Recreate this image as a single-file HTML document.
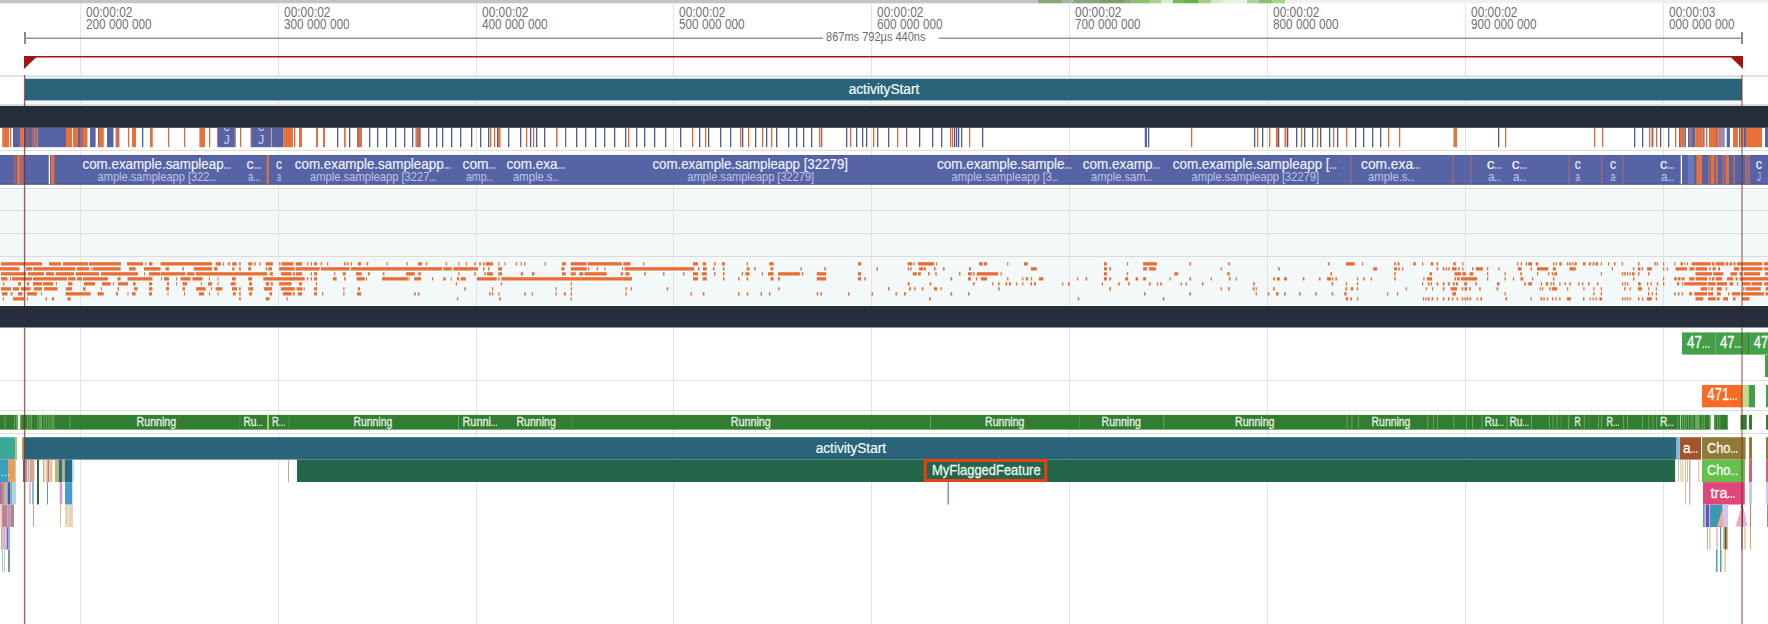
<!DOCTYPE html>
<html><head><meta charset="utf-8"><style>
html,body{margin:0;padding:0;background:#fff;width:1768px;height:624px;overflow:hidden}
svg{display:block;font-family:"Liberation Sans",sans-serif}
</style></head><body>
<svg width="1768" height="624" viewBox="0 0 1768 624">
<rect x="0.00" y="0.00" width="1768.00" height="624.00" fill="#ffffff"/>
<rect x="0.00" y="0.00" width="1038.00" height="3.30" fill="#c4c4c4"/>
<rect x="1038.00" y="0.00" width="24.00" height="3.30" fill="#8aa878"/>
<rect x="1062.00" y="0.00" width="12.00" height="3.30" fill="#a9b5a4"/>
<rect x="1074.00" y="0.00" width="26.00" height="3.30" fill="#88a47a"/>
<rect x="1100.00" y="0.00" width="24.00" height="3.30" fill="#7a9e6a"/>
<rect x="1124.00" y="0.00" width="6.00" height="3.30" fill="#90a888"/>
<rect x="1130.00" y="0.00" width="19.00" height="3.30" fill="#8cc070"/>
<rect x="1149.00" y="0.00" width="12.00" height="3.30" fill="#a8d090"/>
<rect x="1161.00" y="0.00" width="12.00" height="3.30" fill="#d8ecd0"/>
<rect x="1173.00" y="0.00" width="12.00" height="3.30" fill="#78b858"/>
<rect x="1185.00" y="0.00" width="13.00" height="3.30" fill="#6ab048"/>
<rect x="1198.00" y="0.00" width="13.00" height="3.30" fill="#a0cc88"/>
<rect x="1211.00" y="0.00" width="12.00" height="3.30" fill="#d0e8c8"/>
<rect x="1223.00" y="0.00" width="24.00" height="3.30" fill="#e8f2e4"/>
<rect x="1247.00" y="0.00" width="12.00" height="3.30" fill="#a8d098"/>
<rect x="1259.00" y="0.00" width="13.00" height="3.30" fill="#88c070"/>
<rect x="1272.00" y="0.00" width="13.00" height="3.30" fill="#a8d090"/>
<rect x="1285.00" y="0.00" width="483.00" height="3.30" fill="#efefef"/>
<rect x="24.00" y="77.00" width="1718.00" height="24.00" fill="#e9f2f5"/>
<rect x="24.00" y="100.50" width="1718.00" height="3.50" fill="#f5f9fa"/>
<rect x="0.00" y="104.00" width="1768.00" height="2.00" fill="#dcdcdc"/>
<rect x="0.00" y="75.00" width="1768.00" height="2.00" fill="#e2e2e2"/>
<rect x="0.00" y="189.00" width="1768.00" height="116.00" fill="#f3f8f9"/>
<rect x="80.00" y="3.30" width="1.00" height="620.70" fill="#e4e4e4"/>
<rect x="278.00" y="3.30" width="1.00" height="620.70" fill="#e4e4e4"/>
<rect x="476.00" y="3.30" width="1.00" height="620.70" fill="#e4e4e4"/>
<rect x="673.00" y="3.30" width="1.00" height="620.70" fill="#e4e4e4"/>
<rect x="871.00" y="3.30" width="1.00" height="620.70" fill="#e4e4e4"/>
<rect x="1069.00" y="3.30" width="1.00" height="620.70" fill="#e4e4e4"/>
<rect x="1267.00" y="3.30" width="1.00" height="620.70" fill="#e4e4e4"/>
<rect x="1465.00" y="3.30" width="1.00" height="620.70" fill="#e4e4e4"/>
<rect x="1663.00" y="3.30" width="1.00" height="620.70" fill="#e4e4e4"/>
<rect x="0.00" y="150.00" width="1768.00" height="1.00" fill="#dcdcdc"/>
<rect x="0.00" y="210.00" width="1768.00" height="1.00" fill="#dcdcdc"/>
<rect x="0.00" y="233.00" width="1768.00" height="1.00" fill="#dcdcdc"/>
<rect x="0.00" y="256.00" width="1768.00" height="1.00" fill="#dcdcdc"/>
<rect x="0.00" y="188.00" width="1768.00" height="1.00" fill="#dedede"/>
<rect x="0.00" y="380.00" width="1768.00" height="1.00" fill="#dedede"/>
<rect x="0.00" y="410.00" width="1768.00" height="1.00" fill="#dedede"/>
<rect x="0.00" y="433.00" width="1768.00" height="1.00" fill="#dedede"/>
<text x="86.00" y="16.60" font-size="15" fill="#737373" text-anchor="start" font-weight="normal" textLength="46.50" lengthAdjust="spacingAndGlyphs">00:00:02</text>
<text x="86.00" y="28.60" font-size="15" fill="#737373" text-anchor="start" font-weight="normal" textLength="65.60" lengthAdjust="spacingAndGlyphs">200 000 000</text>
<text x="284.00" y="16.60" font-size="15" fill="#737373" text-anchor="start" font-weight="normal" textLength="46.50" lengthAdjust="spacingAndGlyphs">00:00:02</text>
<text x="284.00" y="28.60" font-size="15" fill="#737373" text-anchor="start" font-weight="normal" textLength="65.60" lengthAdjust="spacingAndGlyphs">300 000 000</text>
<text x="482.00" y="16.60" font-size="15" fill="#737373" text-anchor="start" font-weight="normal" textLength="46.50" lengthAdjust="spacingAndGlyphs">00:00:02</text>
<text x="482.00" y="28.60" font-size="15" fill="#737373" text-anchor="start" font-weight="normal" textLength="65.60" lengthAdjust="spacingAndGlyphs">400 000 000</text>
<text x="679.00" y="16.60" font-size="15" fill="#737373" text-anchor="start" font-weight="normal" textLength="46.50" lengthAdjust="spacingAndGlyphs">00:00:02</text>
<text x="679.00" y="28.60" font-size="15" fill="#737373" text-anchor="start" font-weight="normal" textLength="65.60" lengthAdjust="spacingAndGlyphs">500 000 000</text>
<text x="877.00" y="16.60" font-size="15" fill="#737373" text-anchor="start" font-weight="normal" textLength="46.50" lengthAdjust="spacingAndGlyphs">00:00:02</text>
<text x="877.00" y="28.60" font-size="15" fill="#737373" text-anchor="start" font-weight="normal" textLength="65.60" lengthAdjust="spacingAndGlyphs">600 000 000</text>
<text x="1075.00" y="16.60" font-size="15" fill="#737373" text-anchor="start" font-weight="normal" textLength="46.50" lengthAdjust="spacingAndGlyphs">00:00:02</text>
<text x="1075.00" y="28.60" font-size="15" fill="#737373" text-anchor="start" font-weight="normal" textLength="65.60" lengthAdjust="spacingAndGlyphs">700 000 000</text>
<text x="1273.00" y="16.60" font-size="15" fill="#737373" text-anchor="start" font-weight="normal" textLength="46.50" lengthAdjust="spacingAndGlyphs">00:00:02</text>
<text x="1273.00" y="28.60" font-size="15" fill="#737373" text-anchor="start" font-weight="normal" textLength="65.60" lengthAdjust="spacingAndGlyphs">800 000 000</text>
<text x="1471.00" y="16.60" font-size="15" fill="#737373" text-anchor="start" font-weight="normal" textLength="46.50" lengthAdjust="spacingAndGlyphs">00:00:02</text>
<text x="1471.00" y="28.60" font-size="15" fill="#737373" text-anchor="start" font-weight="normal" textLength="65.60" lengthAdjust="spacingAndGlyphs">900 000 000</text>
<text x="1669.00" y="16.60" font-size="15" fill="#737373" text-anchor="start" font-weight="normal" textLength="46.50" lengthAdjust="spacingAndGlyphs">00:00:03</text>
<text x="1669.00" y="28.60" font-size="15" fill="#737373" text-anchor="start" font-weight="normal" textLength="65.60" lengthAdjust="spacingAndGlyphs">000 000 000</text>
<rect x="24.00" y="37.60" width="799.00" height="1.20" fill="#7c7c7c"/>
<rect x="939.00" y="37.60" width="804.00" height="1.20" fill="#7c7c7c"/>
<rect x="24.00" y="32.00" width="2.00" height="12.00" fill="#8a8a8a"/>
<rect x="1741.00" y="32.00" width="2.00" height="12.00" fill="#8a8a8a"/>
<text x="826.00" y="41.00" font-size="12" fill="#6c6c6c" text-anchor="start" font-weight="normal" textLength="99.50" lengthAdjust="spacingAndGlyphs">867ms 792µs 440ns</text>
<rect x="24.00" y="56.00" width="1719.00" height="1.50" fill="#a3160b"/>
<polygon points="24,56 37.5,56 24,69" fill="#a3160b"/>
<polygon points="1743,56 1729.5,56 1743,69" fill="#a3160b"/>
<rect x="25.00" y="78.80" width="1717.00" height="21.60" fill="#29647a"/>
<text x="848.70" y="93.90" font-size="14" fill="#f4fbfd" text-anchor="start" font-weight="normal" textLength="70.60" lengthAdjust="spacingAndGlyphs" stroke="#f4fbfd" stroke-width="0.2">activityStart</text>
<rect x="2.25" y="128.00" width="6.75" height="19.20" fill="#e8703a"/>
<rect x="10.00" y="128.00" width="1.30" height="19.20" fill="#e36a32"/>
<rect x="13.00" y="128.00" width="7.00" height="19.20" fill="#5664a6"/>
<rect x="20.00" y="128.00" width="3.75" height="19.20" fill="#e8703a"/>
<rect x="23.75" y="128.00" width="8.25" height="19.20" fill="#5664a6"/>
<rect x="26.00" y="128.00" width="1.30" height="19.20" fill="#94606a"/>
<rect x="28.00" y="128.00" width="1.30" height="19.20" fill="#94606a"/>
<rect x="32.00" y="128.00" width="5.50" height="19.20" fill="#9c6a78"/>
<rect x="34.00" y="128.00" width="1.30" height="19.20" fill="#e36a32"/>
<rect x="37.50" y="128.00" width="28.50" height="19.20" fill="#5664a6"/>
<rect x="66.00" y="128.00" width="6.00" height="19.20" fill="#e8703a"/>
<rect x="73.00" y="128.00" width="5.00" height="19.20" fill="#e8703a"/>
<rect x="78.00" y="128.00" width="2.00" height="19.20" fill="#5664a6"/>
<rect x="80.00" y="128.00" width="3.00" height="19.20" fill="#9c6a78"/>
<rect x="83.00" y="128.00" width="4.50" height="19.20" fill="#e8703a"/>
<rect x="90.00" y="128.00" width="5.60" height="19.20" fill="#5664a6"/>
<rect x="98.00" y="128.00" width="1.30" height="19.20" fill="#94606a"/>
<rect x="99.00" y="128.00" width="4.75" height="19.20" fill="#e8703a"/>
<rect x="107.00" y="128.00" width="6.50" height="19.20" fill="#5664a6"/>
<rect x="115.60" y="128.00" width="3.80" height="19.20" fill="#9c6a78"/>
<rect x="116.50" y="128.00" width="2.00" height="19.20" fill="#e8703a"/>
<rect x="128.00" y="128.00" width="1.30" height="19.20" fill="#e36a32"/>
<rect x="132.00" y="128.00" width="4.00" height="19.20" fill="#e8703a"/>
<rect x="142.00" y="128.00" width="1.30" height="19.20" fill="#4f5a98"/>
<rect x="150.00" y="128.00" width="2.75" height="19.20" fill="#e8703a"/>
<rect x="168.00" y="128.00" width="1.30" height="19.20" fill="#e36a32"/>
<rect x="184.00" y="128.00" width="1.30" height="19.20" fill="#e36a32"/>
<rect x="199.40" y="128.00" width="5.60" height="19.20" fill="#e8703a"/>
<rect x="209.00" y="128.00" width="1.30" height="19.20" fill="#e36a32"/>
<rect x="217.75" y="128.00" width="16.25" height="19.20" fill="#5664a6"/>
<rect x="234.00" y="128.00" width="1.75" height="19.20" fill="#9c6a78"/>
<rect x="240.00" y="128.00" width="1.30" height="19.20" fill="#e36a32"/>
<rect x="251.00" y="128.00" width="1.30" height="19.20" fill="#94606a"/>
<rect x="251.75" y="128.00" width="18.65" height="19.20" fill="#5664a6"/>
<rect x="270.00" y="128.00" width="1.30" height="19.20" fill="#94606a"/>
<rect x="271.60" y="128.00" width="11.90" height="19.20" fill="#5664a6"/>
<rect x="283.50" y="128.00" width="9.40" height="19.20" fill="#e8703a"/>
<rect x="294.00" y="128.00" width="1.30" height="19.20" fill="#e36a32"/>
<rect x="299.00" y="128.00" width="3.00" height="19.20" fill="#e8703a"/>
<rect x="316.00" y="128.00" width="2.00" height="19.20" fill="#e8703a"/>
<rect x="323.00" y="128.00" width="2.00" height="19.20" fill="#e8703a"/>
<rect x="337.00" y="128.00" width="1.30" height="19.20" fill="#4f5a98"/>
<rect x="344.00" y="128.00" width="1.75" height="19.20" fill="#e8703a"/>
<rect x="349.00" y="128.00" width="1.30" height="19.20" fill="#4f5a98"/>
<rect x="357.00" y="128.00" width="2.00" height="19.20" fill="#9c6a78"/>
<rect x="359.00" y="128.00" width="3.00" height="19.20" fill="#e8703a"/>
<rect x="369.00" y="128.00" width="1.30" height="19.20" fill="#4f5a98"/>
<rect x="377.00" y="128.00" width="1.30" height="19.20" fill="#4f5a98"/>
<rect x="386.00" y="128.00" width="1.30" height="19.20" fill="#4f5a98"/>
<rect x="395.00" y="128.00" width="1.30" height="19.20" fill="#4f5a98"/>
<rect x="404.00" y="128.00" width="1.30" height="19.20" fill="#4f5a98"/>
<rect x="412.00" y="128.00" width="1.30" height="19.20" fill="#4f5a98"/>
<rect x="415.40" y="128.00" width="2.60" height="19.20" fill="#e8703a"/>
<rect x="418.00" y="128.00" width="2.75" height="19.20" fill="#9c6a78"/>
<rect x="428.00" y="128.00" width="1.30" height="19.20" fill="#4f5a98"/>
<rect x="436.00" y="128.00" width="1.30" height="19.20" fill="#4f5a98"/>
<rect x="442.00" y="128.00" width="1.30" height="19.20" fill="#4f5a98"/>
<rect x="451.00" y="128.00" width="1.30" height="19.20" fill="#4f5a98"/>
<rect x="460.00" y="128.00" width="1.30" height="19.20" fill="#4f5a98"/>
<rect x="471.00" y="128.00" width="1.30" height="19.20" fill="#4f5a98"/>
<rect x="480.00" y="128.00" width="1.30" height="19.20" fill="#4f5a98"/>
<rect x="488.00" y="128.00" width="1.30" height="19.20" fill="#4f5a98"/>
<rect x="490.00" y="128.00" width="1.30" height="19.20" fill="#e36a32"/>
<rect x="494.00" y="128.00" width="1.30" height="19.20" fill="#e36a32"/>
<rect x="497.00" y="128.00" width="1.30" height="19.20" fill="#4f5a98"/>
<rect x="498.00" y="128.00" width="2.50" height="19.20" fill="#e8703a"/>
<rect x="508.00" y="128.00" width="1.30" height="19.20" fill="#4f5a98"/>
<rect x="520.00" y="128.00" width="1.30" height="19.20" fill="#4f5a98"/>
<rect x="526.00" y="128.00" width="1.30" height="19.20" fill="#e36a32"/>
<rect x="530.00" y="128.00" width="1.30" height="19.20" fill="#4f5a98"/>
<rect x="533.00" y="128.00" width="1.30" height="19.20" fill="#e36a32"/>
<rect x="536.00" y="128.00" width="1.30" height="19.20" fill="#4f5a98"/>
<rect x="544.00" y="128.00" width="1.30" height="19.20" fill="#4f5a98"/>
<rect x="556.00" y="128.00" width="1.60" height="19.20" fill="#e8703a"/>
<rect x="565.00" y="128.00" width="1.30" height="19.20" fill="#94606a"/>
<rect x="576.00" y="128.00" width="1.30" height="19.20" fill="#4f5a98"/>
<rect x="585.00" y="128.00" width="1.30" height="19.20" fill="#4f5a98"/>
<rect x="595.00" y="128.00" width="1.30" height="19.20" fill="#4f5a98"/>
<rect x="604.00" y="128.00" width="1.30" height="19.20" fill="#4f5a98"/>
<rect x="614.00" y="128.00" width="1.30" height="19.20" fill="#4f5a98"/>
<rect x="625.00" y="128.00" width="1.30" height="19.20" fill="#4f5a98"/>
<rect x="628.00" y="128.00" width="1.30" height="19.20" fill="#e36a32"/>
<rect x="636.00" y="128.00" width="1.30" height="19.20" fill="#4f5a98"/>
<rect x="644.00" y="128.00" width="1.30" height="19.20" fill="#4f5a98"/>
<rect x="654.00" y="128.00" width="1.30" height="19.20" fill="#4f5a98"/>
<rect x="665.00" y="128.00" width="1.30" height="19.20" fill="#4f5a98"/>
<rect x="680.00" y="128.00" width="1.30" height="19.20" fill="#4f5a98"/>
<rect x="692.00" y="128.00" width="1.30" height="19.20" fill="#e36a32"/>
<rect x="699.00" y="128.00" width="1.30" height="19.20" fill="#4f5a98"/>
<rect x="705.00" y="128.00" width="1.30" height="19.20" fill="#e36a32"/>
<rect x="708.00" y="128.00" width="1.30" height="19.20" fill="#4f5a98"/>
<rect x="720.00" y="128.00" width="1.30" height="19.20" fill="#4f5a98"/>
<rect x="730.00" y="128.00" width="1.30" height="19.20" fill="#4f5a98"/>
<rect x="740.00" y="128.00" width="1.30" height="19.20" fill="#e36a32"/>
<rect x="742.00" y="128.00" width="1.30" height="19.20" fill="#4f5a98"/>
<rect x="748.00" y="128.00" width="1.30" height="19.20" fill="#e36a32"/>
<rect x="755.00" y="128.00" width="1.30" height="19.20" fill="#4f5a98"/>
<rect x="762.00" y="128.00" width="1.30" height="19.20" fill="#e36a32"/>
<rect x="766.00" y="128.00" width="1.30" height="19.20" fill="#4f5a98"/>
<rect x="771.00" y="128.00" width="1.30" height="19.20" fill="#e36a32"/>
<rect x="776.00" y="128.00" width="1.30" height="19.20" fill="#4f5a98"/>
<rect x="788.00" y="128.00" width="1.30" height="19.20" fill="#4f5a98"/>
<rect x="796.00" y="128.00" width="1.30" height="19.20" fill="#4f5a98"/>
<rect x="803.00" y="128.00" width="1.30" height="19.20" fill="#4f5a98"/>
<rect x="811.00" y="128.00" width="1.30" height="19.20" fill="#4f5a98"/>
<rect x="819.00" y="128.00" width="1.30" height="19.20" fill="#e36a32"/>
<rect x="821.00" y="128.00" width="1.30" height="19.20" fill="#94606a"/>
<rect x="846.00" y="128.00" width="1.30" height="19.20" fill="#4f5a98"/>
<rect x="850.00" y="128.00" width="1.30" height="19.20" fill="#e36a32"/>
<rect x="856.00" y="128.00" width="1.30" height="19.20" fill="#4f5a98"/>
<rect x="862.00" y="128.00" width="1.30" height="19.20" fill="#4f5a98"/>
<rect x="866.00" y="128.00" width="1.30" height="19.20" fill="#4f5a98"/>
<rect x="873.00" y="128.00" width="1.30" height="19.20" fill="#e36a32"/>
<rect x="877.00" y="128.00" width="1.30" height="19.20" fill="#4f5a98"/>
<rect x="888.00" y="128.00" width="1.30" height="19.20" fill="#4f5a98"/>
<rect x="897.00" y="128.00" width="1.30" height="19.20" fill="#e36a32"/>
<rect x="906.00" y="128.00" width="1.30" height="19.20" fill="#94606a"/>
<rect x="919.00" y="128.00" width="1.30" height="19.20" fill="#4f5a98"/>
<rect x="932.00" y="128.00" width="1.30" height="19.20" fill="#4f5a98"/>
<rect x="941.00" y="128.00" width="1.30" height="19.20" fill="#4f5a98"/>
<rect x="950.00" y="128.00" width="1.30" height="19.20" fill="#e36a32"/>
<rect x="952.00" y="128.00" width="1.30" height="19.20" fill="#e36a32"/>
<rect x="954.00" y="128.00" width="1.30" height="19.20" fill="#4f5a98"/>
<rect x="956.00" y="128.00" width="1.30" height="19.20" fill="#4f5a98"/>
<rect x="958.00" y="128.00" width="1.30" height="19.20" fill="#4f5a98"/>
<rect x="961.00" y="128.00" width="1.30" height="19.20" fill="#4f5a98"/>
<rect x="969.00" y="128.00" width="1.30" height="19.20" fill="#e36a32"/>
<rect x="982.00" y="128.00" width="1.30" height="19.20" fill="#4f5a98"/>
<rect x="1144.75" y="128.00" width="2.25" height="19.20" fill="#5664a6"/>
<rect x="1148.00" y="128.00" width="1.30" height="19.20" fill="#4f5a98"/>
<rect x="1191.00" y="128.00" width="1.30" height="19.20" fill="#e36a32"/>
<rect x="1254.00" y="128.00" width="1.30" height="19.20" fill="#4f5a98"/>
<rect x="1257.00" y="128.00" width="1.30" height="19.20" fill="#e36a32"/>
<rect x="1262.00" y="128.00" width="1.30" height="19.20" fill="#4f5a98"/>
<rect x="1269.00" y="128.00" width="1.30" height="19.20" fill="#e36a32"/>
<rect x="1276.00" y="128.00" width="2.00" height="19.20" fill="#e8703a"/>
<rect x="1278.00" y="128.00" width="1.30" height="19.20" fill="#4f5a98"/>
<rect x="1284.50" y="128.00" width="2.00" height="19.20" fill="#e8703a"/>
<rect x="1287.00" y="128.00" width="1.30" height="19.20" fill="#4f5a98"/>
<rect x="1296.00" y="128.00" width="1.30" height="19.20" fill="#4f5a98"/>
<rect x="1301.00" y="128.00" width="1.30" height="19.20" fill="#e36a32"/>
<rect x="1304.00" y="128.00" width="1.30" height="19.20" fill="#4f5a98"/>
<rect x="1312.00" y="128.00" width="1.30" height="19.20" fill="#4f5a98"/>
<rect x="1317.00" y="128.00" width="1.30" height="19.20" fill="#e36a32"/>
<rect x="1320.00" y="128.00" width="1.30" height="19.20" fill="#4f5a98"/>
<rect x="1329.00" y="128.00" width="1.30" height="19.20" fill="#4f5a98"/>
<rect x="1333.00" y="128.00" width="1.30" height="19.20" fill="#e36a32"/>
<rect x="1337.00" y="128.00" width="1.30" height="19.20" fill="#4f5a98"/>
<rect x="1346.00" y="128.00" width="1.30" height="19.20" fill="#e36a32"/>
<rect x="1355.00" y="128.00" width="1.30" height="19.20" fill="#4f5a98"/>
<rect x="1363.00" y="128.00" width="1.30" height="19.20" fill="#4f5a98"/>
<rect x="1372.00" y="128.00" width="1.30" height="19.20" fill="#4f5a98"/>
<rect x="1380.00" y="128.00" width="1.30" height="19.20" fill="#4f5a98"/>
<rect x="1388.00" y="128.00" width="1.30" height="19.20" fill="#e36a32"/>
<rect x="1399.00" y="128.00" width="1.30" height="19.20" fill="#e36a32"/>
<rect x="1453.50" y="128.00" width="3.50" height="19.20" fill="#e8703a"/>
<rect x="1498.00" y="128.00" width="1.30" height="19.20" fill="#4f5a98"/>
<rect x="1505.00" y="128.00" width="1.30" height="19.20" fill="#e36a32"/>
<rect x="1594.00" y="128.00" width="1.30" height="19.20" fill="#e36a32"/>
<rect x="1602.00" y="128.00" width="1.30" height="19.20" fill="#e36a32"/>
<rect x="1634.00" y="128.00" width="1.30" height="19.20" fill="#4f5a98"/>
<rect x="1642.00" y="128.00" width="1.30" height="19.20" fill="#4f5a98"/>
<rect x="1649.00" y="128.00" width="1.30" height="19.20" fill="#e36a32"/>
<rect x="1651.50" y="128.00" width="2.00" height="19.20" fill="#9c6a78"/>
<rect x="1656.00" y="128.00" width="1.30" height="19.20" fill="#e36a32"/>
<rect x="1660.00" y="128.00" width="1.30" height="19.20" fill="#4f5a98"/>
<rect x="1668.00" y="128.00" width="1.30" height="19.20" fill="#4f5a98"/>
<rect x="1675.00" y="128.00" width="1.30" height="19.20" fill="#e36a32"/>
<rect x="1679.00" y="128.00" width="1.30" height="19.20" fill="#94606a"/>
<rect x="1680.00" y="128.00" width="4.30" height="19.20" fill="#e8703a"/>
<rect x="1684.30" y="128.00" width="1.60" height="19.20" fill="#5664a6"/>
<rect x="1688.00" y="128.00" width="1.80" height="19.20" fill="#5664a6"/>
<rect x="1689.80" y="128.00" width="2.30" height="19.20" fill="#9c6a78"/>
<rect x="1692.10" y="128.00" width="3.40" height="19.20" fill="#5664a6"/>
<rect x="1695.50" y="128.00" width="7.00" height="19.20" fill="#e8703a"/>
<rect x="1702.50" y="128.00" width="2.10" height="19.20" fill="#9c6a78"/>
<rect x="1706.00" y="128.00" width="1.30" height="19.20" fill="#e36a32"/>
<rect x="1709.00" y="128.00" width="7.10" height="19.20" fill="#e8703a"/>
<rect x="1716.00" y="128.00" width="1.30" height="19.20" fill="#94606a"/>
<rect x="1717.10" y="128.00" width="5.20" height="19.20" fill="#c08080"/>
<rect x="1722.30" y="128.00" width="2.30" height="19.20" fill="#7080c0"/>
<rect x="1726.70" y="128.00" width="3.20" height="19.20" fill="#5664a6"/>
<rect x="1733.00" y="128.00" width="4.90" height="19.20" fill="#e8703a"/>
<rect x="1739.00" y="128.00" width="1.30" height="19.20" fill="#94606a"/>
<rect x="1740.30" y="128.00" width="3.30" height="19.20" fill="#e8703a"/>
<rect x="1743.60" y="128.00" width="2.40" height="19.20" fill="#5664a6"/>
<rect x="1746.00" y="128.00" width="16.00" height="19.20" fill="#e8703a"/>
<rect x="1765.00" y="128.00" width="3.00" height="19.20" fill="#5664a6"/>
<rect x="217.20" y="128.00" width="1.00" height="19.20" fill="#9c6a78"/>
<rect x="250.60" y="128.00" width="1.00" height="19.20" fill="#9c6a78"/>
<text x="226.60" y="143.60" font-size="12.5" fill="#c8cce8" text-anchor="middle" font-weight="normal">J</text>
<text x="226.60" y="131.20" font-size="12" fill="#d8dcf0" text-anchor="middle" font-weight="normal">c</text>
<text x="261.00" y="143.60" font-size="12.5" fill="#c8cce8" text-anchor="middle" font-weight="normal">J</text>
<text x="261.00" y="131.20" font-size="12" fill="#d8dcf0" text-anchor="middle" font-weight="normal">c</text>
<rect x="0.00" y="106.00" width="1768.00" height="21.80" fill="#262e3b"/>
<rect x="0.00" y="306.00" width="1768.00" height="21.50" fill="#262e3b"/>
<rect x="0.00" y="155.00" width="1768.00" height="29.60" fill="#5664a6"/>
<rect x="0.00" y="183.20" width="1768.00" height="1.40" fill="#505b94"/>
<rect x="0.00" y="155.00" width="1768.00" height="0.80" fill="#505b94"/>
<rect x="13.75" y="155.00" width="1.85" height="29.30" fill="#9c6a78"/>
<rect x="17.00" y="155.00" width="3.60" height="29.30" fill="#e8703a"/>
<rect x="20.60" y="155.00" width="3.15" height="29.30" fill="#9c6a78"/>
<rect x="48.75" y="155.00" width="1.25" height="29.30" fill="#ffffff"/>
<rect x="51.00" y="155.00" width="3.40" height="29.30" fill="#e8703a"/>
<rect x="266.60" y="155.00" width="2.40" height="29.30" fill="#cf6f4c"/>
<rect x="1350.50" y="155.00" width="1.20" height="29.30" fill="#9c6a78"/>
<rect x="1452.50" y="155.00" width="1.20" height="29.30" fill="#9c6a78"/>
<rect x="1470.50" y="155.00" width="1.20" height="29.30" fill="#9c6a78"/>
<rect x="1568.50" y="155.00" width="1.20" height="29.30" fill="#9c6a78"/>
<rect x="1601.00" y="155.00" width="1.20" height="29.30" fill="#9c6a78"/>
<rect x="1622.50" y="155.00" width="1.20" height="29.30" fill="#9c6a78"/>
<rect x="1680.75" y="155.00" width="1.25" height="29.30" fill="#ffffff"/>
<rect x="1688.00" y="155.00" width="6.00" height="29.30" fill="#6d78b6"/>
<rect x="1696.40" y="155.00" width="5.60" height="29.30" fill="#e8703a"/>
<rect x="1708.60" y="155.00" width="1.00" height="29.30" fill="#e8703a"/>
<rect x="1710.75" y="155.00" width="3.75" height="29.30" fill="#e8703a"/>
<rect x="1716.00" y="155.00" width="1.60" height="29.30" fill="#e8703a"/>
<rect x="1722.00" y="155.00" width="2.50" height="29.30" fill="#9c6a78"/>
<rect x="1725.50" y="155.00" width="3.50" height="29.30" fill="#e8703a"/>
<rect x="1733.50" y="155.00" width="1.10" height="29.30" fill="#e8703a"/>
<rect x="1745.00" y="155.00" width="5.00" height="29.30" fill="#9c6a78"/>
<text x="82.50" y="168.80" font-size="14.8" fill="#f2f3fa" text-anchor="start" font-weight="normal" textLength="141.10" lengthAdjust="spacingAndGlyphs" stroke="#f2f3fa" stroke-width="0.15">com.example.sampleap</text>
<circle cx="224.83" cy="167.99" r="0.81" fill="#f2f3fa"/>
<circle cx="227.30" cy="167.99" r="0.81" fill="#f2f3fa"/>
<circle cx="229.77" cy="167.99" r="0.81" fill="#f2f3fa"/>
<text x="97.50" y="181.00" font-size="13" fill="#bfc4e4" text-anchor="start" font-weight="normal" textLength="112.00" lengthAdjust="spacingAndGlyphs">ample.sampleapp [322</text>
<circle cx="210.58" cy="180.28" r="0.71" fill="#bfc4e4"/>
<circle cx="212.75" cy="180.28" r="0.71" fill="#bfc4e4"/>
<circle cx="214.92" cy="180.28" r="0.71" fill="#bfc4e4"/>
<text x="246.60" y="168.80" font-size="14.8" fill="#f2f3fa" text-anchor="start" font-weight="normal" textLength="7.00" lengthAdjust="spacingAndGlyphs" stroke="#f2f3fa" stroke-width="0.15">c</text>
<circle cx="254.83" cy="167.99" r="0.81" fill="#f2f3fa"/>
<circle cx="257.30" cy="167.99" r="0.81" fill="#f2f3fa"/>
<circle cx="259.77" cy="167.99" r="0.81" fill="#f2f3fa"/>
<text x="248.00" y="181.00" font-size="13" fill="#bfc4e4" text-anchor="start" font-weight="normal" textLength="5.50" lengthAdjust="spacingAndGlyphs">a</text>
<circle cx="254.58" cy="180.28" r="0.71" fill="#bfc4e4"/>
<circle cx="256.75" cy="180.28" r="0.71" fill="#bfc4e4"/>
<circle cx="258.92" cy="180.28" r="0.71" fill="#bfc4e4"/>
<text x="276.00" y="168.80" font-size="14.8" fill="#f2f3fa" text-anchor="start" font-weight="normal" textLength="6.00" lengthAdjust="spacingAndGlyphs" stroke="#f2f3fa" stroke-width="0.15">c</text>
<text x="277.00" y="181.00" font-size="13" fill="#bfc4e4" text-anchor="start" font-weight="normal" textLength="4.00" lengthAdjust="spacingAndGlyphs">a</text>
<text x="294.75" y="168.80" font-size="14.8" fill="#f2f3fa" text-anchor="start" font-weight="normal" textLength="148.85" lengthAdjust="spacingAndGlyphs" stroke="#f2f3fa" stroke-width="0.15">com.example.sampleapp</text>
<circle cx="444.83" cy="167.99" r="0.81" fill="#f2f3fa"/>
<circle cx="447.30" cy="167.99" r="0.81" fill="#f2f3fa"/>
<circle cx="449.77" cy="167.99" r="0.81" fill="#f2f3fa"/>
<text x="310.00" y="181.00" font-size="13" fill="#bfc4e4" text-anchor="start" font-weight="normal" textLength="119.50" lengthAdjust="spacingAndGlyphs">ample.sampleapp [3227</text>
<circle cx="430.58" cy="180.28" r="0.71" fill="#bfc4e4"/>
<circle cx="432.75" cy="180.28" r="0.71" fill="#bfc4e4"/>
<circle cx="434.92" cy="180.28" r="0.71" fill="#bfc4e4"/>
<text x="462.50" y="168.80" font-size="14.8" fill="#f2f3fa" text-anchor="start" font-weight="normal" textLength="26.10" lengthAdjust="spacingAndGlyphs" stroke="#f2f3fa" stroke-width="0.15">com</text>
<circle cx="489.83" cy="167.99" r="0.81" fill="#f2f3fa"/>
<circle cx="492.30" cy="167.99" r="0.81" fill="#f2f3fa"/>
<circle cx="494.77" cy="167.99" r="0.81" fill="#f2f3fa"/>
<text x="466.00" y="181.00" font-size="13" fill="#bfc4e4" text-anchor="start" font-weight="normal" textLength="20.50" lengthAdjust="spacingAndGlyphs">amp</text>
<circle cx="487.58" cy="180.28" r="0.71" fill="#bfc4e4"/>
<circle cx="489.75" cy="180.28" r="0.71" fill="#bfc4e4"/>
<circle cx="491.92" cy="180.28" r="0.71" fill="#bfc4e4"/>
<text x="506.50" y="168.80" font-size="14.8" fill="#f2f3fa" text-anchor="start" font-weight="normal" textLength="51.10" lengthAdjust="spacingAndGlyphs" stroke="#f2f3fa" stroke-width="0.15">com.exa</text>
<circle cx="558.83" cy="167.99" r="0.81" fill="#f2f3fa"/>
<circle cx="561.30" cy="167.99" r="0.81" fill="#f2f3fa"/>
<circle cx="563.77" cy="167.99" r="0.81" fill="#f2f3fa"/>
<text x="513.00" y="181.00" font-size="13" fill="#bfc4e4" text-anchor="start" font-weight="normal" textLength="39.50" lengthAdjust="spacingAndGlyphs">ample.s</text>
<circle cx="553.58" cy="180.28" r="0.71" fill="#bfc4e4"/>
<circle cx="555.75" cy="180.28" r="0.71" fill="#bfc4e4"/>
<circle cx="557.92" cy="180.28" r="0.71" fill="#bfc4e4"/>
<text x="652.40" y="168.80" font-size="14.8" fill="#f2f3fa" text-anchor="start" font-weight="normal" textLength="195.60" lengthAdjust="spacingAndGlyphs" stroke="#f2f3fa" stroke-width="0.15">com.example.sampleapp [32279]</text>
<text x="687.30" y="181.00" font-size="13" fill="#bfc4e4" text-anchor="start" font-weight="normal" textLength="126.80" lengthAdjust="spacingAndGlyphs">ample.sampleapp [32279]</text>
<text x="937.00" y="168.80" font-size="14.8" fill="#f2f3fa" text-anchor="start" font-weight="normal" textLength="127.60" lengthAdjust="spacingAndGlyphs" stroke="#f2f3fa" stroke-width="0.15">com.example.sample</text>
<circle cx="1065.83" cy="167.99" r="0.81" fill="#f2f3fa"/>
<circle cx="1068.30" cy="167.99" r="0.81" fill="#f2f3fa"/>
<circle cx="1070.77" cy="167.99" r="0.81" fill="#f2f3fa"/>
<text x="951.50" y="181.00" font-size="13" fill="#bfc4e4" text-anchor="start" font-weight="normal" textLength="100.50" lengthAdjust="spacingAndGlyphs">ample.sampleapp [3</text>
<circle cx="1053.08" cy="180.28" r="0.71" fill="#bfc4e4"/>
<circle cx="1055.25" cy="180.28" r="0.71" fill="#bfc4e4"/>
<circle cx="1057.42" cy="180.28" r="0.71" fill="#bfc4e4"/>
<text x="1082.75" y="168.80" font-size="14.8" fill="#f2f3fa" text-anchor="start" font-weight="normal" textLength="69.85" lengthAdjust="spacingAndGlyphs" stroke="#f2f3fa" stroke-width="0.15">com.examp</text>
<circle cx="1153.83" cy="167.99" r="0.81" fill="#f2f3fa"/>
<circle cx="1156.30" cy="167.99" r="0.81" fill="#f2f3fa"/>
<circle cx="1158.77" cy="167.99" r="0.81" fill="#f2f3fa"/>
<text x="1091.00" y="181.00" font-size="13" fill="#bfc4e4" text-anchor="start" font-weight="normal" textLength="54.50" lengthAdjust="spacingAndGlyphs">ample.sam</text>
<circle cx="1146.58" cy="180.28" r="0.71" fill="#bfc4e4"/>
<circle cx="1148.75" cy="180.28" r="0.71" fill="#bfc4e4"/>
<circle cx="1150.92" cy="180.28" r="0.71" fill="#bfc4e4"/>
<text x="1172.75" y="168.80" font-size="14.8" fill="#f2f3fa" text-anchor="start" font-weight="normal" textLength="156.85" lengthAdjust="spacingAndGlyphs" stroke="#f2f3fa" stroke-width="0.15">com.example.sampleapp [</text>
<circle cx="1330.83" cy="167.99" r="0.81" fill="#f2f3fa"/>
<circle cx="1333.30" cy="167.99" r="0.81" fill="#f2f3fa"/>
<circle cx="1335.77" cy="167.99" r="0.81" fill="#f2f3fa"/>
<text x="1191.50" y="181.00" font-size="13" fill="#bfc4e4" text-anchor="start" font-weight="normal" textLength="127.50" lengthAdjust="spacingAndGlyphs">ample.sampleapp [32279]</text>
<text x="1361.00" y="168.80" font-size="14.8" fill="#f2f3fa" text-anchor="start" font-weight="normal" textLength="52.10" lengthAdjust="spacingAndGlyphs" stroke="#f2f3fa" stroke-width="0.15">com.exa</text>
<circle cx="1414.33" cy="167.99" r="0.81" fill="#f2f3fa"/>
<circle cx="1416.80" cy="167.99" r="0.81" fill="#f2f3fa"/>
<circle cx="1419.27" cy="167.99" r="0.81" fill="#f2f3fa"/>
<text x="1368.00" y="181.00" font-size="13" fill="#bfc4e4" text-anchor="start" font-weight="normal" textLength="39.50" lengthAdjust="spacingAndGlyphs">ample.s</text>
<circle cx="1408.58" cy="180.28" r="0.71" fill="#bfc4e4"/>
<circle cx="1410.75" cy="180.28" r="0.71" fill="#bfc4e4"/>
<circle cx="1412.92" cy="180.28" r="0.71" fill="#bfc4e4"/>
<text x="1486.75" y="168.80" font-size="14.8" fill="#f2f3fa" text-anchor="start" font-weight="normal" textLength="7.85" lengthAdjust="spacingAndGlyphs" stroke="#f2f3fa" stroke-width="0.15">c</text>
<circle cx="1495.83" cy="167.99" r="0.81" fill="#f2f3fa"/>
<circle cx="1498.30" cy="167.99" r="0.81" fill="#f2f3fa"/>
<circle cx="1500.77" cy="167.99" r="0.81" fill="#f2f3fa"/>
<text x="1488.00" y="181.00" font-size="13" fill="#bfc4e4" text-anchor="start" font-weight="normal" textLength="6.50" lengthAdjust="spacingAndGlyphs">a</text>
<circle cx="1495.58" cy="180.28" r="0.71" fill="#bfc4e4"/>
<circle cx="1497.75" cy="180.28" r="0.71" fill="#bfc4e4"/>
<circle cx="1499.92" cy="180.28" r="0.71" fill="#bfc4e4"/>
<text x="1511.75" y="168.80" font-size="14.8" fill="#f2f3fa" text-anchor="start" font-weight="normal" textLength="7.85" lengthAdjust="spacingAndGlyphs" stroke="#f2f3fa" stroke-width="0.15">c</text>
<circle cx="1520.83" cy="167.99" r="0.81" fill="#f2f3fa"/>
<circle cx="1523.30" cy="167.99" r="0.81" fill="#f2f3fa"/>
<circle cx="1525.77" cy="167.99" r="0.81" fill="#f2f3fa"/>
<text x="1513.00" y="181.00" font-size="13" fill="#bfc4e4" text-anchor="start" font-weight="normal" textLength="6.50" lengthAdjust="spacingAndGlyphs">a</text>
<circle cx="1520.58" cy="180.28" r="0.71" fill="#bfc4e4"/>
<circle cx="1522.75" cy="180.28" r="0.71" fill="#bfc4e4"/>
<circle cx="1524.92" cy="180.28" r="0.71" fill="#bfc4e4"/>
<text x="1574.75" y="168.80" font-size="14.8" fill="#f2f3fa" text-anchor="start" font-weight="normal" textLength="6.00" lengthAdjust="spacingAndGlyphs" stroke="#f2f3fa" stroke-width="0.15">c</text>
<text x="1575.50" y="181.00" font-size="13" fill="#bfc4e4" text-anchor="start" font-weight="normal" textLength="4.50" lengthAdjust="spacingAndGlyphs">a</text>
<text x="1610.00" y="168.80" font-size="14.8" fill="#f2f3fa" text-anchor="start" font-weight="normal" textLength="6.00" lengthAdjust="spacingAndGlyphs" stroke="#f2f3fa" stroke-width="0.15">c</text>
<text x="1610.50" y="181.00" font-size="13" fill="#bfc4e4" text-anchor="start" font-weight="normal" textLength="5.00" lengthAdjust="spacingAndGlyphs">a</text>
<text x="1660.00" y="168.80" font-size="14.8" fill="#f2f3fa" text-anchor="start" font-weight="normal" textLength="7.35" lengthAdjust="spacingAndGlyphs" stroke="#f2f3fa" stroke-width="0.15">c</text>
<circle cx="1668.58" cy="167.99" r="0.81" fill="#f2f3fa"/>
<circle cx="1671.05" cy="167.99" r="0.81" fill="#f2f3fa"/>
<circle cx="1673.52" cy="167.99" r="0.81" fill="#f2f3fa"/>
<text x="1661.00" y="181.00" font-size="13" fill="#bfc4e4" text-anchor="start" font-weight="normal" textLength="6.50" lengthAdjust="spacingAndGlyphs">a</text>
<circle cx="1668.58" cy="180.28" r="0.71" fill="#bfc4e4"/>
<circle cx="1670.75" cy="180.28" r="0.71" fill="#bfc4e4"/>
<circle cx="1672.92" cy="180.28" r="0.71" fill="#bfc4e4"/>
<text x="1755.75" y="168.80" font-size="14.8" fill="#f2f3fa" text-anchor="start" font-weight="normal" textLength="6.25" lengthAdjust="spacingAndGlyphs" stroke="#f2f3fa" stroke-width="0.15">c</text>
<text x="1757.00" y="181.00" font-size="13" fill="#bfc4e4" text-anchor="start" font-weight="normal" textLength="4.00" lengthAdjust="spacingAndGlyphs">J</text>
<rect x="1.00" y="262.20" width="41.00" height="3.30" fill="#e86e36"/>
<rect x="49.00" y="262.20" width="12.00" height="3.30" fill="#e86e36"/>
<rect x="63.00" y="262.20" width="25.00" height="3.30" fill="#e86e36"/>
<rect x="89.00" y="262.20" width="32.00" height="3.30" fill="#e86e36"/>
<rect x="127.00" y="262.20" width="16.00" height="3.30" fill="#e86e36"/>
<rect x="145.00" y="262.20" width="1.00" height="3.30" fill="#e86e36"/>
<rect x="149.00" y="262.20" width="3.50" height="3.30" fill="#e86e36"/>
<rect x="160.60" y="262.20" width="51.40" height="3.30" fill="#e86e36"/>
<rect x="215.60" y="262.20" width="5.40" height="3.30" fill="#e86e36"/>
<rect x="222.88" y="262.20" width="1.25" height="3.30" fill="#e86e36"/>
<rect x="227.88" y="262.20" width="1.88" height="3.30" fill="#e86e36"/>
<rect x="232.25" y="262.20" width="4.38" height="3.30" fill="#e86e36"/>
<rect x="239.12" y="262.20" width="1.62" height="3.30" fill="#e86e36"/>
<rect x="248.25" y="262.20" width="4.00" height="3.30" fill="#e86e36"/>
<rect x="254.12" y="262.20" width="1.62" height="3.30" fill="#e86e36"/>
<rect x="259.50" y="262.20" width="1.25" height="3.30" fill="#e86e36"/>
<rect x="265.75" y="262.20" width="7.12" height="3.30" fill="#e86e36"/>
<rect x="279.12" y="262.20" width="1.25" height="3.30" fill="#e86e36"/>
<rect x="281.62" y="262.20" width="11.88" height="3.30" fill="#e86e36"/>
<rect x="295.75" y="262.20" width="6.25" height="3.30" fill="#e86e36"/>
<rect x="307.00" y="262.20" width="1.25" height="3.30" fill="#e86e36"/>
<rect x="310.75" y="262.20" width="1.25" height="3.30" fill="#e86e36"/>
<rect x="314.12" y="262.20" width="2.88" height="3.30" fill="#e86e36"/>
<rect x="320.75" y="262.20" width="1.25" height="3.30" fill="#e86e36"/>
<rect x="327.00" y="262.20" width="1.25" height="3.30" fill="#e86e36"/>
<rect x="344.12" y="262.20" width="1.62" height="3.30" fill="#e86e36"/>
<rect x="347.00" y="262.20" width="1.50" height="3.30" fill="#e86e36"/>
<rect x="350.75" y="262.20" width="1.25" height="3.30" fill="#e86e36"/>
<rect x="357.88" y="262.20" width="3.12" height="3.30" fill="#e86e36"/>
<rect x="366.62" y="262.20" width="1.62" height="3.30" fill="#e86e36"/>
<rect x="386.62" y="262.20" width="1.25" height="3.30" fill="#e86e36"/>
<rect x="406.62" y="262.20" width="1.25" height="3.30" fill="#e86e36"/>
<rect x="418.25" y="262.20" width="3.75" height="3.30" fill="#e86e36"/>
<rect x="425.75" y="262.20" width="1.25" height="3.30" fill="#e86e36"/>
<rect x="445.75" y="262.20" width="1.25" height="3.30" fill="#e86e36"/>
<rect x="458.25" y="262.20" width="1.25" height="3.30" fill="#e86e36"/>
<rect x="465.75" y="262.20" width="1.25" height="3.30" fill="#e86e36"/>
<rect x="474.25" y="262.20" width="1.50" height="3.30" fill="#e86e36"/>
<rect x="479.25" y="262.20" width="1.50" height="3.30" fill="#e86e36"/>
<rect x="483.00" y="262.20" width="1.50" height="3.30" fill="#e86e36"/>
<rect x="485.75" y="262.20" width="7.25" height="3.30" fill="#e86e36"/>
<rect x="498.25" y="262.20" width="1.25" height="3.30" fill="#e86e36"/>
<rect x="504.50" y="262.20" width="1.25" height="3.30" fill="#e86e36"/>
<rect x="515.75" y="262.20" width="1.25" height="3.30" fill="#e86e36"/>
<rect x="520.75" y="262.20" width="1.25" height="3.30" fill="#e86e36"/>
<rect x="524.25" y="262.20" width="1.25" height="3.30" fill="#e86e36"/>
<rect x="544.50" y="262.20" width="1.25" height="3.30" fill="#e86e36"/>
<rect x="562.00" y="262.20" width="3.75" height="3.30" fill="#e86e36"/>
<rect x="570.75" y="262.20" width="16.00" height="3.30" fill="#e86e36"/>
<rect x="588.00" y="262.20" width="33.75" height="3.30" fill="#e86e36"/>
<rect x="623.25" y="262.20" width="7.25" height="3.30" fill="#e86e36"/>
<rect x="643.00" y="262.20" width="1.25" height="3.30" fill="#e86e36"/>
<rect x="693.00" y="262.20" width="5.00" height="3.30" fill="#e86e36"/>
<rect x="702.75" y="262.20" width="3.38" height="3.30" fill="#e86e36"/>
<rect x="714.00" y="262.20" width="1.50" height="3.30" fill="#e86e36"/>
<rect x="722.00" y="262.20" width="2.88" height="3.30" fill="#e86e36"/>
<rect x="746.75" y="262.20" width="1.25" height="3.30" fill="#e86e36"/>
<rect x="769.25" y="262.20" width="4.38" height="3.30" fill="#e86e36"/>
<rect x="858.00" y="262.20" width="3.12" height="3.30" fill="#e86e36"/>
<rect x="907.75" y="262.20" width="4.38" height="3.30" fill="#e86e36"/>
<rect x="913.38" y="262.20" width="1.25" height="3.30" fill="#e86e36"/>
<rect x="918.00" y="262.20" width="16.00" height="3.30" fill="#e86e36"/>
<rect x="935.88" y="262.20" width="1.25" height="3.30" fill="#e86e36"/>
<rect x="979.00" y="262.20" width="3.75" height="3.30" fill="#e86e36"/>
<rect x="984.00" y="262.20" width="3.12" height="3.30" fill="#e86e36"/>
<rect x="1007.12" y="262.20" width="1.25" height="3.30" fill="#e86e36"/>
<rect x="1024.00" y="262.20" width="3.75" height="3.30" fill="#e86e36"/>
<rect x="1104.00" y="262.20" width="1.00" height="3.30" fill="#e86e36"/>
<rect x="1105.00" y="262.20" width="1.88" height="3.30" fill="#e86e36"/>
<rect x="1126.88" y="262.20" width="1.25" height="3.30" fill="#e86e36"/>
<rect x="1143.12" y="262.20" width="13.75" height="3.30" fill="#e86e36"/>
<rect x="1189.38" y="262.20" width="1.62" height="3.30" fill="#e86e36"/>
<rect x="1228.12" y="262.20" width="1.62" height="3.30" fill="#e86e36"/>
<rect x="1327.88" y="262.20" width="1.62" height="3.30" fill="#e86e36"/>
<rect x="1346.00" y="262.20" width="8.75" height="3.30" fill="#e86e36"/>
<rect x="1362.00" y="262.20" width="1.25" height="3.30" fill="#e86e36"/>
<rect x="1394.12" y="262.20" width="1.62" height="3.30" fill="#e86e36"/>
<rect x="1397.50" y="262.20" width="2.00" height="3.30" fill="#e86e36"/>
<rect x="1413.25" y="262.20" width="2.50" height="3.30" fill="#e86e36"/>
<rect x="1422.00" y="262.20" width="1.25" height="3.30" fill="#e86e36"/>
<rect x="1430.75" y="262.20" width="2.50" height="3.30" fill="#e86e36"/>
<rect x="1436.62" y="262.20" width="1.62" height="3.30" fill="#e86e36"/>
<rect x="1453.25" y="262.20" width="2.50" height="3.30" fill="#e86e36"/>
<rect x="1462.25" y="262.20" width="1.25" height="3.30" fill="#e86e36"/>
<rect x="1517.00" y="262.20" width="1.25" height="3.30" fill="#e86e36"/>
<rect x="1520.75" y="262.20" width="1.25" height="3.30" fill="#e86e36"/>
<rect x="1525.75" y="262.20" width="1.25" height="3.30" fill="#e86e36"/>
<rect x="1528.25" y="262.20" width="3.75" height="3.30" fill="#e86e36"/>
<rect x="1535.75" y="262.20" width="2.50" height="3.30" fill="#e86e36"/>
<rect x="1553.00" y="262.20" width="1.25" height="3.30" fill="#e86e36"/>
<rect x="1555.50" y="262.20" width="1.25" height="3.30" fill="#e86e36"/>
<rect x="1559.25" y="262.20" width="2.50" height="3.30" fill="#e86e36"/>
<rect x="1567.00" y="262.20" width="1.25" height="3.30" fill="#e86e36"/>
<rect x="1569.25" y="262.20" width="1.50" height="3.30" fill="#e86e36"/>
<rect x="1572.00" y="262.20" width="1.25" height="3.30" fill="#e86e36"/>
<rect x="1574.50" y="262.20" width="2.25" height="3.30" fill="#e86e36"/>
<rect x="1583.00" y="262.20" width="2.50" height="3.30" fill="#e86e36"/>
<rect x="1588.88" y="262.20" width="1.88" height="3.30" fill="#e86e36"/>
<rect x="1592.62" y="262.20" width="1.62" height="3.30" fill="#e86e36"/>
<rect x="1595.50" y="262.20" width="2.50" height="3.30" fill="#e86e36"/>
<rect x="1600.75" y="262.20" width="1.25" height="3.30" fill="#e86e36"/>
<rect x="1608.00" y="262.20" width="1.25" height="3.30" fill="#e86e36"/>
<rect x="1613.88" y="262.20" width="1.62" height="3.30" fill="#e86e36"/>
<rect x="1621.75" y="262.20" width="1.25" height="3.30" fill="#e86e36"/>
<rect x="1638.00" y="262.20" width="1.50" height="3.30" fill="#e86e36"/>
<rect x="1654.25" y="262.20" width="1.50" height="3.30" fill="#e86e36"/>
<rect x="1656.75" y="262.20" width="1.25" height="3.30" fill="#e86e36"/>
<rect x="1663.00" y="262.20" width="1.25" height="3.30" fill="#e86e36"/>
<rect x="1674.25" y="262.20" width="1.25" height="3.30" fill="#e86e36"/>
<rect x="1680.50" y="262.20" width="2.50" height="3.30" fill="#e86e36"/>
<rect x="1684.50" y="262.20" width="1.00" height="3.30" fill="#e86e36"/>
<rect x="1687.00" y="262.20" width="1.00" height="3.30" fill="#e86e36"/>
<rect x="1691.75" y="262.20" width="19.00" height="3.30" fill="#e86e36"/>
<rect x="1712.00" y="262.20" width="2.50" height="3.30" fill="#e86e36"/>
<rect x="1715.75" y="262.20" width="8.75" height="3.30" fill="#e86e36"/>
<rect x="1725.75" y="262.20" width="2.50" height="3.30" fill="#e86e36"/>
<rect x="1729.50" y="262.20" width="2.50" height="3.30" fill="#e86e36"/>
<rect x="1733.25" y="262.20" width="2.25" height="3.30" fill="#e86e36"/>
<rect x="1737.00" y="262.20" width="25.00" height="3.30" fill="#e86e36"/>
<rect x="1763.88" y="262.20" width="4.12" height="3.30" fill="#e86e36"/>
<rect x="0.00" y="267.20" width="19.40" height="3.30" fill="#e86e36"/>
<rect x="26.00" y="267.20" width="6.00" height="3.30" fill="#e86e36"/>
<rect x="33.00" y="267.20" width="42.60" height="3.30" fill="#e86e36"/>
<rect x="77.00" y="267.20" width="12.00" height="3.30" fill="#e86e36"/>
<rect x="90.60" y="267.20" width="0.90" height="3.30" fill="#e86e36"/>
<rect x="92.50" y="267.20" width="28.10" height="3.30" fill="#e86e36"/>
<rect x="129.00" y="267.20" width="6.60" height="3.30" fill="#e86e36"/>
<rect x="144.00" y="267.20" width="16.60" height="3.30" fill="#e86e36"/>
<rect x="165.60" y="267.20" width="3.40" height="3.30" fill="#e86e36"/>
<rect x="182.50" y="267.20" width="1.50" height="3.30" fill="#e86e36"/>
<rect x="194.00" y="267.20" width="18.00" height="3.30" fill="#e86e36"/>
<rect x="214.00" y="267.20" width="3.50" height="3.30" fill="#e86e36"/>
<rect x="232.25" y="267.20" width="2.25" height="3.30" fill="#e86e36"/>
<rect x="239.12" y="267.20" width="1.62" height="3.30" fill="#e86e36"/>
<rect x="248.25" y="267.20" width="2.75" height="3.30" fill="#e86e36"/>
<rect x="265.75" y="267.20" width="1.25" height="3.30" fill="#e86e36"/>
<rect x="268.25" y="267.20" width="3.75" height="3.30" fill="#e86e36"/>
<rect x="279.12" y="267.20" width="15.62" height="3.30" fill="#e86e36"/>
<rect x="295.75" y="267.20" width="24.00" height="3.30" fill="#e86e36"/>
<rect x="321.00" y="267.20" width="28.75" height="3.30" fill="#e86e36"/>
<rect x="351.00" y="267.20" width="91.00" height="3.30" fill="#e86e36"/>
<rect x="443.25" y="267.20" width="8.50" height="3.30" fill="#e86e36"/>
<rect x="453.25" y="267.20" width="24.75" height="3.30" fill="#e86e36"/>
<rect x="483.00" y="267.20" width="1.50" height="3.30" fill="#e86e36"/>
<rect x="488.00" y="267.20" width="1.50" height="3.30" fill="#e86e36"/>
<rect x="498.25" y="267.20" width="3.75" height="3.30" fill="#e86e36"/>
<rect x="561.38" y="267.20" width="3.12" height="3.30" fill="#e86e36"/>
<rect x="570.75" y="267.20" width="16.00" height="3.30" fill="#e86e36"/>
<rect x="588.00" y="267.20" width="1.25" height="3.30" fill="#e86e36"/>
<rect x="596.75" y="267.20" width="1.25" height="3.30" fill="#e86e36"/>
<rect x="604.25" y="267.20" width="1.25" height="3.30" fill="#e86e36"/>
<rect x="622.00" y="267.20" width="1.00" height="3.30" fill="#e86e36"/>
<rect x="624.50" y="267.20" width="38.50" height="3.30" fill="#e86e36"/>
<rect x="663.00" y="267.20" width="31.25" height="3.30" fill="#e86e36"/>
<rect x="698.00" y="267.20" width="1.50" height="3.30" fill="#e86e36"/>
<rect x="703.00" y="267.20" width="3.75" height="3.30" fill="#e86e36"/>
<rect x="713.00" y="267.20" width="1.50" height="3.30" fill="#e86e36"/>
<rect x="723.00" y="267.20" width="1.50" height="3.30" fill="#e86e36"/>
<rect x="746.75" y="267.20" width="2.75" height="3.30" fill="#e86e36"/>
<rect x="754.25" y="267.20" width="1.50" height="3.30" fill="#e86e36"/>
<rect x="770.50" y="267.20" width="2.75" height="3.30" fill="#e86e36"/>
<rect x="800.50" y="267.20" width="1.25" height="3.30" fill="#e86e36"/>
<rect x="824.25" y="267.20" width="1.50" height="3.30" fill="#e86e36"/>
<rect x="876.50" y="267.20" width="1.50" height="3.30" fill="#e86e36"/>
<rect x="907.75" y="267.20" width="1.25" height="3.30" fill="#e86e36"/>
<rect x="910.25" y="267.20" width="1.50" height="3.30" fill="#e86e36"/>
<rect x="919.00" y="267.20" width="4.00" height="3.30" fill="#e86e36"/>
<rect x="923.75" y="267.20" width="2.12" height="3.30" fill="#e86e36"/>
<rect x="934.00" y="267.20" width="1.50" height="3.30" fill="#e86e36"/>
<rect x="943.00" y="267.20" width="1.62" height="3.30" fill="#e86e36"/>
<rect x="969.00" y="267.20" width="1.88" height="3.30" fill="#e86e36"/>
<rect x="1030.88" y="267.20" width="5.88" height="3.30" fill="#e86e36"/>
<rect x="1104.00" y="267.20" width="1.00" height="3.30" fill="#e86e36"/>
<rect x="1105.00" y="267.20" width="1.88" height="3.30" fill="#e86e36"/>
<rect x="1109.38" y="267.20" width="1.62" height="3.30" fill="#e86e36"/>
<rect x="1143.12" y="267.20" width="3.75" height="3.30" fill="#e86e36"/>
<rect x="1149.00" y="267.20" width="7.00" height="3.30" fill="#e86e36"/>
<rect x="1220.62" y="267.20" width="1.25" height="3.30" fill="#e86e36"/>
<rect x="1278.12" y="267.20" width="1.62" height="3.30" fill="#e86e36"/>
<rect x="1373.25" y="267.20" width="3.75" height="3.30" fill="#e86e36"/>
<rect x="1394.12" y="267.20" width="2.88" height="3.30" fill="#e86e36"/>
<rect x="1398.25" y="267.20" width="1.50" height="3.30" fill="#e86e36"/>
<rect x="1402.00" y="267.20" width="1.25" height="3.30" fill="#e86e36"/>
<rect x="1436.62" y="267.20" width="1.62" height="3.30" fill="#e86e36"/>
<rect x="1442.88" y="267.20" width="1.62" height="3.30" fill="#e86e36"/>
<rect x="1445.75" y="267.20" width="1.25" height="3.30" fill="#e86e36"/>
<rect x="1448.25" y="267.20" width="1.50" height="3.30" fill="#e86e36"/>
<rect x="1452.00" y="267.20" width="4.62" height="3.30" fill="#e86e36"/>
<rect x="1458.25" y="267.20" width="1.50" height="3.30" fill="#e86e36"/>
<rect x="1462.25" y="267.20" width="1.25" height="3.30" fill="#e86e36"/>
<rect x="1472.00" y="267.20" width="1.25" height="3.30" fill="#e86e36"/>
<rect x="1475.75" y="267.20" width="7.12" height="3.30" fill="#e86e36"/>
<rect x="1487.00" y="267.20" width="1.25" height="3.30" fill="#e86e36"/>
<rect x="1498.25" y="267.20" width="1.25" height="3.30" fill="#e86e36"/>
<rect x="1517.88" y="267.20" width="3.75" height="3.30" fill="#e86e36"/>
<rect x="1530.75" y="267.20" width="1.25" height="3.30" fill="#e86e36"/>
<rect x="1537.00" y="267.20" width="10.00" height="3.30" fill="#e86e36"/>
<rect x="1547.00" y="267.20" width="1.25" height="3.30" fill="#e86e36"/>
<rect x="1553.00" y="267.20" width="2.75" height="3.30" fill="#e86e36"/>
<rect x="1569.50" y="267.20" width="6.25" height="3.30" fill="#e86e36"/>
<rect x="1611.75" y="267.20" width="1.25" height="3.30" fill="#e86e36"/>
<rect x="1633.00" y="267.20" width="1.25" height="3.30" fill="#e86e36"/>
<rect x="1638.00" y="267.20" width="2.50" height="3.30" fill="#e86e36"/>
<rect x="1641.75" y="267.20" width="1.25" height="3.30" fill="#e86e36"/>
<rect x="1647.00" y="267.20" width="4.75" height="3.30" fill="#e86e36"/>
<rect x="1663.00" y="267.20" width="1.25" height="3.30" fill="#e86e36"/>
<rect x="1666.75" y="267.20" width="1.25" height="3.30" fill="#e86e36"/>
<rect x="1675.50" y="267.20" width="11.50" height="3.30" fill="#e86e36"/>
<rect x="1689.50" y="267.20" width="5.00" height="3.30" fill="#e86e36"/>
<rect x="1695.75" y="267.20" width="11.25" height="3.30" fill="#e86e36"/>
<rect x="1709.25" y="267.20" width="1.50" height="3.30" fill="#e86e36"/>
<rect x="1712.62" y="267.20" width="3.12" height="3.30" fill="#e86e36"/>
<rect x="1718.00" y="267.20" width="2.12" height="3.30" fill="#e86e36"/>
<rect x="1733.88" y="267.20" width="5.62" height="3.30" fill="#e86e36"/>
<rect x="1740.75" y="267.20" width="21.88" height="3.30" fill="#e86e36"/>
<rect x="1764.25" y="267.20" width="3.75" height="3.30" fill="#e86e36"/>
<rect x="1.00" y="272.20" width="25.00" height="3.30" fill="#e86e36"/>
<rect x="28.00" y="272.20" width="16.00" height="3.30" fill="#e86e36"/>
<rect x="46.00" y="272.20" width="8.00" height="3.30" fill="#e86e36"/>
<rect x="55.60" y="272.20" width="18.40" height="3.30" fill="#e86e36"/>
<rect x="75.60" y="272.20" width="23.40" height="3.30" fill="#e86e36"/>
<rect x="101.00" y="272.20" width="37.00" height="3.30" fill="#e86e36"/>
<rect x="144.00" y="272.20" width="1.00" height="3.30" fill="#e86e36"/>
<rect x="149.00" y="272.20" width="11.60" height="3.30" fill="#e86e36"/>
<rect x="161.00" y="272.20" width="24.60" height="3.30" fill="#e86e36"/>
<rect x="187.00" y="272.20" width="7.40" height="3.30" fill="#e86e36"/>
<rect x="195.60" y="272.20" width="25.40" height="3.30" fill="#e86e36"/>
<rect x="221.00" y="272.20" width="46.25" height="3.30" fill="#e86e36"/>
<rect x="269.75" y="272.20" width="3.12" height="3.30" fill="#e86e36"/>
<rect x="281.00" y="272.20" width="10.62" height="3.30" fill="#e86e36"/>
<rect x="292.88" y="272.20" width="1.88" height="3.30" fill="#e86e36"/>
<rect x="295.75" y="272.20" width="6.25" height="3.30" fill="#e86e36"/>
<rect x="310.75" y="272.20" width="1.25" height="3.30" fill="#e86e36"/>
<rect x="314.12" y="272.20" width="2.88" height="3.30" fill="#e86e36"/>
<rect x="334.12" y="272.20" width="1.25" height="3.30" fill="#e86e36"/>
<rect x="342.88" y="272.20" width="2.88" height="3.30" fill="#e86e36"/>
<rect x="356.00" y="272.20" width="5.62" height="3.30" fill="#e86e36"/>
<rect x="367.88" y="272.20" width="1.88" height="3.30" fill="#e86e36"/>
<rect x="382.88" y="272.20" width="1.62" height="3.30" fill="#e86e36"/>
<rect x="406.00" y="272.20" width="8.75" height="3.30" fill="#e86e36"/>
<rect x="418.25" y="272.20" width="2.50" height="3.30" fill="#e86e36"/>
<rect x="458.25" y="272.20" width="1.25" height="3.30" fill="#e86e36"/>
<rect x="474.25" y="272.20" width="1.50" height="3.30" fill="#e86e36"/>
<rect x="484.25" y="272.20" width="1.50" height="3.30" fill="#e86e36"/>
<rect x="487.00" y="272.20" width="6.00" height="3.30" fill="#e86e36"/>
<rect x="498.25" y="272.20" width="3.75" height="3.30" fill="#e86e36"/>
<rect x="520.75" y="272.20" width="2.25" height="3.30" fill="#e86e36"/>
<rect x="532.00" y="272.20" width="2.50" height="3.30" fill="#e86e36"/>
<rect x="562.00" y="272.20" width="3.75" height="3.30" fill="#e86e36"/>
<rect x="570.75" y="272.20" width="5.00" height="3.30" fill="#e86e36"/>
<rect x="579.25" y="272.20" width="4.00" height="3.30" fill="#e86e36"/>
<rect x="584.50" y="272.20" width="22.25" height="3.30" fill="#e86e36"/>
<rect x="620.75" y="272.20" width="2.25" height="3.30" fill="#e86e36"/>
<rect x="625.50" y="272.20" width="4.00" height="3.30" fill="#e86e36"/>
<rect x="644.25" y="272.20" width="1.50" height="3.30" fill="#e86e36"/>
<rect x="663.00" y="272.20" width="1.50" height="3.30" fill="#e86e36"/>
<rect x="683.00" y="272.20" width="1.50" height="3.30" fill="#e86e36"/>
<rect x="693.00" y="272.20" width="5.00" height="3.30" fill="#e86e36"/>
<rect x="701.75" y="272.20" width="5.00" height="3.30" fill="#e86e36"/>
<rect x="714.00" y="272.20" width="1.50" height="3.30" fill="#e86e36"/>
<rect x="723.00" y="272.20" width="1.50" height="3.30" fill="#e86e36"/>
<rect x="741.75" y="272.20" width="1.25" height="3.30" fill="#e86e36"/>
<rect x="745.50" y="272.20" width="4.00" height="3.30" fill="#e86e36"/>
<rect x="761.75" y="272.20" width="1.25" height="3.30" fill="#e86e36"/>
<rect x="768.00" y="272.20" width="5.62" height="3.30" fill="#e86e36"/>
<rect x="778.00" y="272.20" width="21.88" height="3.30" fill="#e86e36"/>
<rect x="801.75" y="272.20" width="1.50" height="3.30" fill="#e86e36"/>
<rect x="816.75" y="272.20" width="9.38" height="3.30" fill="#e86e36"/>
<rect x="858.00" y="272.20" width="3.12" height="3.30" fill="#e86e36"/>
<rect x="912.75" y="272.20" width="4.00" height="3.30" fill="#e86e36"/>
<rect x="918.00" y="272.20" width="2.88" height="3.30" fill="#e86e36"/>
<rect x="928.00" y="272.20" width="1.62" height="3.30" fill="#e86e36"/>
<rect x="935.25" y="272.20" width="1.50" height="3.30" fill="#e86e36"/>
<rect x="959.00" y="272.20" width="1.50" height="3.30" fill="#e86e36"/>
<rect x="968.00" y="272.20" width="3.75" height="3.30" fill="#e86e36"/>
<rect x="973.00" y="272.20" width="1.62" height="3.30" fill="#e86e36"/>
<rect x="976.75" y="272.20" width="21.25" height="3.30" fill="#e86e36"/>
<rect x="1000.50" y="272.20" width="1.25" height="3.30" fill="#e86e36"/>
<rect x="1104.00" y="272.20" width="1.00" height="3.30" fill="#e86e36"/>
<rect x="1105.00" y="272.20" width="1.88" height="3.30" fill="#e86e36"/>
<rect x="1126.88" y="272.20" width="1.25" height="3.30" fill="#e86e36"/>
<rect x="1174.38" y="272.20" width="3.75" height="3.30" fill="#e86e36"/>
<rect x="1227.25" y="272.20" width="2.50" height="3.30" fill="#e86e36"/>
<rect x="1330.38" y="272.20" width="1.62" height="3.30" fill="#e86e36"/>
<rect x="1394.12" y="272.20" width="1.62" height="3.30" fill="#e86e36"/>
<rect x="1429.50" y="272.20" width="2.50" height="3.30" fill="#e86e36"/>
<rect x="1454.50" y="272.20" width="6.50" height="3.30" fill="#e86e36"/>
<rect x="1462.25" y="272.20" width="3.75" height="3.30" fill="#e86e36"/>
<rect x="1469.50" y="272.20" width="3.75" height="3.30" fill="#e86e36"/>
<rect x="1487.00" y="272.20" width="1.25" height="3.30" fill="#e86e36"/>
<rect x="1504.50" y="272.20" width="1.25" height="3.30" fill="#e86e36"/>
<rect x="1520.38" y="272.20" width="1.62" height="3.30" fill="#e86e36"/>
<rect x="1537.00" y="272.20" width="1.25" height="3.30" fill="#e86e36"/>
<rect x="1548.00" y="272.20" width="1.25" height="3.30" fill="#e86e36"/>
<rect x="1551.75" y="272.20" width="1.50" height="3.30" fill="#e86e36"/>
<rect x="1554.25" y="272.20" width="2.75" height="3.30" fill="#e86e36"/>
<rect x="1600.75" y="272.20" width="1.25" height="3.30" fill="#e86e36"/>
<rect x="1621.75" y="272.20" width="1.50" height="3.30" fill="#e86e36"/>
<rect x="1624.25" y="272.20" width="1.50" height="3.30" fill="#e86e36"/>
<rect x="1627.00" y="272.20" width="1.25" height="3.30" fill="#e86e36"/>
<rect x="1629.50" y="272.20" width="1.25" height="3.30" fill="#e86e36"/>
<rect x="1632.00" y="272.20" width="2.50" height="3.30" fill="#e86e36"/>
<rect x="1638.00" y="272.20" width="1.50" height="3.30" fill="#e86e36"/>
<rect x="1648.00" y="272.20" width="1.50" height="3.30" fill="#e86e36"/>
<rect x="1695.50" y="272.20" width="16.50" height="3.30" fill="#e86e36"/>
<rect x="1713.25" y="272.20" width="10.00" height="3.30" fill="#e86e36"/>
<rect x="1730.50" y="272.20" width="6.50" height="3.30" fill="#e86e36"/>
<rect x="1739.50" y="272.20" width="3.12" height="3.30" fill="#e86e36"/>
<rect x="1743.88" y="272.20" width="16.25" height="3.30" fill="#e86e36"/>
<rect x="1765.12" y="272.20" width="2.88" height="3.30" fill="#e86e36"/>
<rect x="1.00" y="277.20" width="6.50" height="3.30" fill="#e86e36"/>
<rect x="10.00" y="277.20" width="1.00" height="3.30" fill="#e86e36"/>
<rect x="12.00" y="277.20" width="20.00" height="3.30" fill="#e86e36"/>
<rect x="33.00" y="277.20" width="34.00" height="3.30" fill="#e86e36"/>
<rect x="68.00" y="277.20" width="7.60" height="3.30" fill="#e86e36"/>
<rect x="77.00" y="277.20" width="5.00" height="3.30" fill="#e86e36"/>
<rect x="83.00" y="277.20" width="25.00" height="3.30" fill="#e86e36"/>
<rect x="117.50" y="277.20" width="3.10" height="3.30" fill="#e86e36"/>
<rect x="127.50" y="277.20" width="25.00" height="3.30" fill="#e86e36"/>
<rect x="161.00" y="277.20" width="1.00" height="3.30" fill="#e86e36"/>
<rect x="164.00" y="277.20" width="5.00" height="3.30" fill="#e86e36"/>
<rect x="176.00" y="277.20" width="1.00" height="3.30" fill="#e86e36"/>
<rect x="180.60" y="277.20" width="10.00" height="3.30" fill="#e86e36"/>
<rect x="192.50" y="277.20" width="10.00" height="3.30" fill="#e86e36"/>
<rect x="209.00" y="277.20" width="1.00" height="3.30" fill="#e86e36"/>
<rect x="217.50" y="277.20" width="1.00" height="3.30" fill="#e86e36"/>
<rect x="232.00" y="277.20" width="3.75" height="3.30" fill="#e86e36"/>
<rect x="248.25" y="277.20" width="3.75" height="3.30" fill="#e86e36"/>
<rect x="263.25" y="277.20" width="41.50" height="3.30" fill="#e86e36"/>
<rect x="307.00" y="277.20" width="1.25" height="3.30" fill="#e86e36"/>
<rect x="310.75" y="277.20" width="1.25" height="3.30" fill="#e86e36"/>
<rect x="314.12" y="277.20" width="2.88" height="3.30" fill="#e86e36"/>
<rect x="332.88" y="277.20" width="3.75" height="3.30" fill="#e86e36"/>
<rect x="344.12" y="277.20" width="1.62" height="3.30" fill="#e86e36"/>
<rect x="356.62" y="277.20" width="8.12" height="3.30" fill="#e86e36"/>
<rect x="366.00" y="277.20" width="1.00" height="3.30" fill="#e86e36"/>
<rect x="382.00" y="277.20" width="25.88" height="3.30" fill="#e86e36"/>
<rect x="408.50" y="277.20" width="1.00" height="3.30" fill="#e86e36"/>
<rect x="414.12" y="277.20" width="6.88" height="3.30" fill="#e86e36"/>
<rect x="432.00" y="277.20" width="1.25" height="3.30" fill="#e86e36"/>
<rect x="443.25" y="277.20" width="2.50" height="3.30" fill="#e86e36"/>
<rect x="450.75" y="277.20" width="1.00" height="3.30" fill="#e86e36"/>
<rect x="457.00" y="277.20" width="2.25" height="3.30" fill="#e86e36"/>
<rect x="460.75" y="277.20" width="5.00" height="3.30" fill="#e86e36"/>
<rect x="477.00" y="277.20" width="19.75" height="3.30" fill="#e86e36"/>
<rect x="498.25" y="277.20" width="1.50" height="3.30" fill="#e86e36"/>
<rect x="501.38" y="277.20" width="130.62" height="3.30" fill="#e86e36"/>
<rect x="693.00" y="277.20" width="5.00" height="3.30" fill="#e86e36"/>
<rect x="702.75" y="277.20" width="4.00" height="3.30" fill="#e86e36"/>
<rect x="723.00" y="277.20" width="1.50" height="3.30" fill="#e86e36"/>
<rect x="738.00" y="277.20" width="1.50" height="3.30" fill="#e86e36"/>
<rect x="746.75" y="277.20" width="1.50" height="3.30" fill="#e86e36"/>
<rect x="770.50" y="277.20" width="3.12" height="3.30" fill="#e86e36"/>
<rect x="778.00" y="277.20" width="1.88" height="3.30" fill="#e86e36"/>
<rect x="816.75" y="277.20" width="9.38" height="3.30" fill="#e86e36"/>
<rect x="858.00" y="277.20" width="3.12" height="3.30" fill="#e86e36"/>
<rect x="864.25" y="277.20" width="1.50" height="3.30" fill="#e86e36"/>
<rect x="950.50" y="277.20" width="1.62" height="3.30" fill="#e86e36"/>
<rect x="968.00" y="277.20" width="2.88" height="3.30" fill="#e86e36"/>
<rect x="975.88" y="277.20" width="1.25" height="3.30" fill="#e86e36"/>
<rect x="980.88" y="277.20" width="6.25" height="3.30" fill="#e86e36"/>
<rect x="1007.12" y="277.20" width="1.25" height="3.30" fill="#e86e36"/>
<rect x="1022.12" y="277.20" width="1.25" height="3.30" fill="#e86e36"/>
<rect x="1025.88" y="277.20" width="2.12" height="3.30" fill="#e86e36"/>
<rect x="1030.88" y="277.20" width="1.25" height="3.30" fill="#e86e36"/>
<rect x="1039.00" y="277.20" width="4.38" height="3.30" fill="#e86e36"/>
<rect x="1077.12" y="277.20" width="1.25" height="3.30" fill="#e86e36"/>
<rect x="1085.50" y="277.20" width="1.62" height="3.30" fill="#e86e36"/>
<rect x="1104.00" y="277.20" width="1.00" height="3.30" fill="#e86e36"/>
<rect x="1105.00" y="277.20" width="1.88" height="3.30" fill="#e86e36"/>
<rect x="1109.38" y="277.20" width="1.62" height="3.30" fill="#e86e36"/>
<rect x="1125.25" y="277.20" width="2.88" height="3.30" fill="#e86e36"/>
<rect x="1135.62" y="277.20" width="2.50" height="3.30" fill="#e86e36"/>
<rect x="1143.12" y="277.20" width="2.88" height="3.30" fill="#e86e36"/>
<rect x="1169.38" y="277.20" width="1.25" height="3.30" fill="#e86e36"/>
<rect x="1189.38" y="277.20" width="1.62" height="3.30" fill="#e86e36"/>
<rect x="1210.62" y="277.20" width="1.25" height="3.30" fill="#e86e36"/>
<rect x="1229.00" y="277.20" width="1.62" height="3.30" fill="#e86e36"/>
<rect x="1235.62" y="277.20" width="1.25" height="3.30" fill="#e86e36"/>
<rect x="1273.12" y="277.20" width="1.62" height="3.30" fill="#e86e36"/>
<rect x="1276.88" y="277.20" width="2.88" height="3.30" fill="#e86e36"/>
<rect x="1284.00" y="277.20" width="2.88" height="3.30" fill="#e86e36"/>
<rect x="1302.75" y="277.20" width="1.62" height="3.30" fill="#e86e36"/>
<rect x="1319.00" y="277.20" width="1.62" height="3.30" fill="#e86e36"/>
<rect x="1327.00" y="277.20" width="4.00" height="3.30" fill="#e86e36"/>
<rect x="1332.00" y="277.20" width="1.25" height="3.30" fill="#e86e36"/>
<rect x="1335.38" y="277.20" width="1.62" height="3.30" fill="#e86e36"/>
<rect x="1357.00" y="277.20" width="1.25" height="3.30" fill="#e86e36"/>
<rect x="1363.25" y="277.20" width="1.50" height="3.30" fill="#e86e36"/>
<rect x="1370.75" y="277.20" width="1.25" height="3.30" fill="#e86e36"/>
<rect x="1394.12" y="277.20" width="1.62" height="3.30" fill="#e86e36"/>
<rect x="1423.25" y="277.20" width="1.25" height="3.30" fill="#e86e36"/>
<rect x="1427.00" y="277.20" width="5.00" height="3.30" fill="#e86e36"/>
<rect x="1454.50" y="277.20" width="1.50" height="3.30" fill="#e86e36"/>
<rect x="1457.00" y="277.20" width="2.50" height="3.30" fill="#e86e36"/>
<rect x="1460.75" y="277.20" width="16.25" height="3.30" fill="#e86e36"/>
<rect x="1487.00" y="277.20" width="1.25" height="3.30" fill="#e86e36"/>
<rect x="1504.50" y="277.20" width="1.25" height="3.30" fill="#e86e36"/>
<rect x="1512.88" y="277.20" width="1.25" height="3.30" fill="#e86e36"/>
<rect x="1520.38" y="277.20" width="2.88" height="3.30" fill="#e86e36"/>
<rect x="1532.00" y="277.20" width="1.25" height="3.30" fill="#e86e36"/>
<rect x="1553.00" y="277.20" width="1.50" height="3.30" fill="#e86e36"/>
<rect x="1633.00" y="277.20" width="1.50" height="3.30" fill="#e86e36"/>
<rect x="1663.00" y="277.20" width="1.25" height="3.30" fill="#e86e36"/>
<rect x="1674.25" y="277.20" width="2.50" height="3.30" fill="#e86e36"/>
<rect x="1678.00" y="277.20" width="2.50" height="3.30" fill="#e86e36"/>
<rect x="1681.75" y="277.20" width="2.75" height="3.30" fill="#e86e36"/>
<rect x="1689.25" y="277.20" width="5.25" height="3.30" fill="#e86e36"/>
<rect x="1695.75" y="277.20" width="11.25" height="3.30" fill="#e86e36"/>
<rect x="1709.25" y="277.20" width="1.50" height="3.30" fill="#e86e36"/>
<rect x="1712.00" y="277.20" width="2.50" height="3.30" fill="#e86e36"/>
<rect x="1715.75" y="277.20" width="6.25" height="3.30" fill="#e86e36"/>
<rect x="1727.00" y="277.20" width="6.25" height="3.30" fill="#e86e36"/>
<rect x="1735.50" y="277.20" width="2.12" height="3.30" fill="#e86e36"/>
<rect x="1739.50" y="277.20" width="28.50" height="3.30" fill="#e86e36"/>
<rect x="3.00" y="282.20" width="1.40" height="3.30" fill="#e86e36"/>
<rect x="18.00" y="282.20" width="3.00" height="3.30" fill="#e86e36"/>
<rect x="27.00" y="282.20" width="2.00" height="3.30" fill="#e86e36"/>
<rect x="33.00" y="282.20" width="9.00" height="3.30" fill="#e86e36"/>
<rect x="43.00" y="282.20" width="10.00" height="3.30" fill="#e86e36"/>
<rect x="56.00" y="282.20" width="1.00" height="3.30" fill="#e86e36"/>
<rect x="68.00" y="282.20" width="4.50" height="3.30" fill="#e86e36"/>
<rect x="84.00" y="282.20" width="11.00" height="3.30" fill="#e86e36"/>
<rect x="102.00" y="282.20" width="8.60" height="3.30" fill="#e86e36"/>
<rect x="113.00" y="282.20" width="1.00" height="3.30" fill="#e86e36"/>
<rect x="118.00" y="282.20" width="10.00" height="3.30" fill="#e86e36"/>
<rect x="133.00" y="282.20" width="2.60" height="3.30" fill="#e86e36"/>
<rect x="149.00" y="282.20" width="3.00" height="3.30" fill="#e86e36"/>
<rect x="167.00" y="282.20" width="2.00" height="3.30" fill="#e86e36"/>
<rect x="176.00" y="282.20" width="1.00" height="3.30" fill="#e86e36"/>
<rect x="182.50" y="282.20" width="4.50" height="3.30" fill="#e86e36"/>
<rect x="201.00" y="282.20" width="1.00" height="3.30" fill="#e86e36"/>
<rect x="208.00" y="282.20" width="4.00" height="3.30" fill="#e86e36"/>
<rect x="217.50" y="282.20" width="1.00" height="3.30" fill="#e86e36"/>
<rect x="230.75" y="282.20" width="5.00" height="3.30" fill="#e86e36"/>
<rect x="249.12" y="282.20" width="2.88" height="3.30" fill="#e86e36"/>
<rect x="265.75" y="282.20" width="3.38" height="3.30" fill="#e86e36"/>
<rect x="270.75" y="282.20" width="2.12" height="3.30" fill="#e86e36"/>
<rect x="279.12" y="282.20" width="12.50" height="3.30" fill="#e86e36"/>
<rect x="299.12" y="282.20" width="2.88" height="3.30" fill="#e86e36"/>
<rect x="315.75" y="282.20" width="1.25" height="3.30" fill="#e86e36"/>
<rect x="455.75" y="282.20" width="1.25" height="3.30" fill="#e86e36"/>
<rect x="500.75" y="282.20" width="1.25" height="3.30" fill="#e86e36"/>
<rect x="570.75" y="282.20" width="1.25" height="3.30" fill="#e86e36"/>
<rect x="907.75" y="282.20" width="1.88" height="3.30" fill="#e86e36"/>
<rect x="929.62" y="282.20" width="1.62" height="3.30" fill="#e86e36"/>
<rect x="973.00" y="282.20" width="1.62" height="3.30" fill="#e86e36"/>
<rect x="992.12" y="282.20" width="1.25" height="3.30" fill="#e86e36"/>
<rect x="998.00" y="282.20" width="1.62" height="3.30" fill="#e86e36"/>
<rect x="1005.50" y="282.20" width="1.62" height="3.30" fill="#e86e36"/>
<rect x="1009.00" y="282.20" width="1.88" height="3.30" fill="#e86e36"/>
<rect x="1015.88" y="282.20" width="1.25" height="3.30" fill="#e86e36"/>
<rect x="1022.12" y="282.20" width="1.25" height="3.30" fill="#e86e36"/>
<rect x="1030.50" y="282.20" width="1.62" height="3.30" fill="#e86e36"/>
<rect x="1034.00" y="282.20" width="1.88" height="3.30" fill="#e86e36"/>
<rect x="1062.12" y="282.20" width="1.25" height="3.30" fill="#e86e36"/>
<rect x="1068.00" y="282.20" width="1.62" height="3.30" fill="#e86e36"/>
<rect x="1101.75" y="282.20" width="1.25" height="3.30" fill="#e86e36"/>
<rect x="1118.12" y="282.20" width="1.62" height="3.30" fill="#e86e36"/>
<rect x="1128.12" y="282.20" width="1.62" height="3.30" fill="#e86e36"/>
<rect x="1149.00" y="282.20" width="1.62" height="3.30" fill="#e86e36"/>
<rect x="1156.88" y="282.20" width="1.25" height="3.30" fill="#e86e36"/>
<rect x="1160.25" y="282.20" width="1.62" height="3.30" fill="#e86e36"/>
<rect x="1180.62" y="282.20" width="1.25" height="3.30" fill="#e86e36"/>
<rect x="1185.62" y="282.20" width="1.25" height="3.30" fill="#e86e36"/>
<rect x="1201.88" y="282.20" width="1.62" height="3.30" fill="#e86e36"/>
<rect x="1253.12" y="282.20" width="1.62" height="3.30" fill="#e86e36"/>
<rect x="1331.62" y="282.20" width="1.62" height="3.30" fill="#e86e36"/>
<rect x="1345.75" y="282.20" width="1.25" height="3.30" fill="#e86e36"/>
<rect x="1357.00" y="282.20" width="1.25" height="3.30" fill="#e86e36"/>
<rect x="1422.00" y="282.20" width="1.25" height="3.30" fill="#e86e36"/>
<rect x="1427.88" y="282.20" width="1.62" height="3.30" fill="#e86e36"/>
<rect x="1430.75" y="282.20" width="1.25" height="3.30" fill="#e86e36"/>
<rect x="1436.62" y="282.20" width="1.62" height="3.30" fill="#e86e36"/>
<rect x="1442.88" y="282.20" width="1.62" height="3.30" fill="#e86e36"/>
<rect x="1447.88" y="282.20" width="1.88" height="3.30" fill="#e86e36"/>
<rect x="1452.88" y="282.20" width="1.88" height="3.30" fill="#e86e36"/>
<rect x="1456.00" y="282.20" width="1.88" height="3.30" fill="#e86e36"/>
<rect x="1464.12" y="282.20" width="2.88" height="3.30" fill="#e86e36"/>
<rect x="1475.38" y="282.20" width="1.62" height="3.30" fill="#e86e36"/>
<rect x="1497.00" y="282.20" width="2.50" height="3.30" fill="#e86e36"/>
<rect x="1524.12" y="282.20" width="1.62" height="3.30" fill="#e86e36"/>
<rect x="1528.25" y="282.20" width="3.75" height="3.30" fill="#e86e36"/>
<rect x="1540.75" y="282.20" width="1.25" height="3.30" fill="#e86e36"/>
<rect x="1545.75" y="282.20" width="1.25" height="3.30" fill="#e86e36"/>
<rect x="1547.00" y="282.20" width="1.25" height="3.30" fill="#e86e36"/>
<rect x="1550.50" y="282.20" width="1.25" height="3.30" fill="#e86e36"/>
<rect x="1553.00" y="282.20" width="1.50" height="3.30" fill="#e86e36"/>
<rect x="1559.25" y="282.20" width="1.25" height="3.30" fill="#e86e36"/>
<rect x="1564.50" y="282.20" width="1.25" height="3.30" fill="#e86e36"/>
<rect x="1569.25" y="282.20" width="1.50" height="3.30" fill="#e86e36"/>
<rect x="1578.25" y="282.20" width="1.25" height="3.30" fill="#e86e36"/>
<rect x="1582.00" y="282.20" width="1.25" height="3.30" fill="#e86e36"/>
<rect x="1588.00" y="282.20" width="1.50" height="3.30" fill="#e86e36"/>
<rect x="1597.00" y="282.20" width="1.25" height="3.30" fill="#e86e36"/>
<rect x="1622.00" y="282.20" width="1.25" height="3.30" fill="#e86e36"/>
<rect x="1624.50" y="282.20" width="1.25" height="3.30" fill="#e86e36"/>
<rect x="1627.00" y="282.20" width="1.25" height="3.30" fill="#e86e36"/>
<rect x="1638.00" y="282.20" width="2.75" height="3.30" fill="#e86e36"/>
<rect x="1647.00" y="282.20" width="1.25" height="3.30" fill="#e86e36"/>
<rect x="1650.50" y="282.20" width="1.25" height="3.30" fill="#e86e36"/>
<rect x="1656.75" y="282.20" width="1.50" height="3.30" fill="#e86e36"/>
<rect x="1663.00" y="282.20" width="1.25" height="3.30" fill="#e86e36"/>
<rect x="1677.00" y="282.20" width="2.25" height="3.30" fill="#e86e36"/>
<rect x="1682.00" y="282.20" width="1.25" height="3.30" fill="#e86e36"/>
<rect x="1684.25" y="282.20" width="22.50" height="3.30" fill="#e86e36"/>
<rect x="1707.62" y="282.20" width="8.12" height="3.30" fill="#e86e36"/>
<rect x="1717.00" y="282.20" width="10.00" height="3.30" fill="#e86e36"/>
<rect x="1729.50" y="282.20" width="3.75" height="3.30" fill="#e86e36"/>
<rect x="1737.00" y="282.20" width="1.25" height="3.30" fill="#e86e36"/>
<rect x="1742.00" y="282.20" width="8.75" height="3.30" fill="#e86e36"/>
<rect x="1751.75" y="282.20" width="10.25" height="3.30" fill="#e86e36"/>
<rect x="1764.25" y="282.20" width="3.75" height="3.30" fill="#e86e36"/>
<rect x="1.00" y="287.20" width="10.00" height="3.30" fill="#e86e36"/>
<rect x="13.00" y="287.20" width="6.00" height="3.30" fill="#e86e36"/>
<rect x="21.00" y="287.20" width="9.60" height="3.30" fill="#e86e36"/>
<rect x="33.80" y="287.20" width="8.20" height="3.30" fill="#e86e36"/>
<rect x="44.00" y="287.20" width="13.50" height="3.30" fill="#e86e36"/>
<rect x="66.00" y="287.20" width="6.00" height="3.30" fill="#e86e36"/>
<rect x="83.00" y="287.20" width="2.60" height="3.30" fill="#e86e36"/>
<rect x="101.00" y="287.20" width="1.00" height="3.30" fill="#e86e36"/>
<rect x="117.50" y="287.20" width="1.50" height="3.30" fill="#e86e36"/>
<rect x="134.00" y="287.20" width="3.50" height="3.30" fill="#e86e36"/>
<rect x="149.00" y="287.20" width="3.50" height="3.30" fill="#e86e36"/>
<rect x="166.00" y="287.20" width="3.00" height="3.30" fill="#e86e36"/>
<rect x="182.50" y="287.20" width="2.50" height="3.30" fill="#e86e36"/>
<rect x="196.00" y="287.20" width="9.60" height="3.30" fill="#e86e36"/>
<rect x="211.00" y="287.20" width="1.00" height="3.30" fill="#e86e36"/>
<rect x="215.60" y="287.20" width="5.40" height="3.30" fill="#e86e36"/>
<rect x="221.00" y="287.20" width="1.25" height="3.30" fill="#e86e36"/>
<rect x="232.00" y="287.20" width="5.00" height="3.30" fill="#e86e36"/>
<rect x="239.12" y="287.20" width="1.62" height="3.30" fill="#e86e36"/>
<rect x="248.25" y="287.20" width="5.00" height="3.30" fill="#e86e36"/>
<rect x="264.12" y="287.20" width="7.88" height="3.30" fill="#e86e36"/>
<rect x="281.00" y="287.20" width="13.75" height="3.30" fill="#e86e36"/>
<rect x="296.62" y="287.20" width="5.62" height="3.30" fill="#e86e36"/>
<rect x="303.50" y="287.20" width="1.25" height="3.30" fill="#e86e36"/>
<rect x="314.12" y="287.20" width="2.88" height="3.30" fill="#e86e36"/>
<rect x="343.25" y="287.20" width="1.25" height="3.30" fill="#e86e36"/>
<rect x="357.88" y="287.20" width="2.12" height="3.30" fill="#e86e36"/>
<rect x="464.25" y="287.20" width="1.50" height="3.30" fill="#e86e36"/>
<rect x="492.00" y="287.20" width="1.25" height="3.30" fill="#e86e36"/>
<rect x="555.50" y="287.20" width="1.25" height="3.30" fill="#e86e36"/>
<rect x="570.75" y="287.20" width="1.25" height="3.30" fill="#e86e36"/>
<rect x="625.50" y="287.20" width="1.25" height="3.30" fill="#e86e36"/>
<rect x="630.75" y="287.20" width="1.25" height="3.30" fill="#e86e36"/>
<rect x="666.75" y="287.20" width="1.50" height="3.30" fill="#e86e36"/>
<rect x="778.00" y="287.20" width="1.50" height="3.30" fill="#e86e36"/>
<rect x="888.00" y="287.20" width="1.62" height="3.30" fill="#e86e36"/>
<rect x="909.00" y="287.20" width="1.88" height="3.30" fill="#e86e36"/>
<rect x="914.00" y="287.20" width="1.50" height="3.30" fill="#e86e36"/>
<rect x="921.75" y="287.20" width="1.62" height="3.30" fill="#e86e36"/>
<rect x="934.00" y="287.20" width="3.12" height="3.30" fill="#e86e36"/>
<rect x="940.50" y="287.20" width="1.25" height="3.30" fill="#e86e36"/>
<rect x="998.00" y="287.20" width="1.62" height="3.30" fill="#e86e36"/>
<rect x="1109.38" y="287.20" width="1.62" height="3.30" fill="#e86e36"/>
<rect x="1220.62" y="287.20" width="1.25" height="3.30" fill="#e86e36"/>
<rect x="1228.12" y="287.20" width="1.62" height="3.30" fill="#e86e36"/>
<rect x="1252.75" y="287.20" width="1.62" height="3.30" fill="#e86e36"/>
<rect x="1255.62" y="287.20" width="1.25" height="3.30" fill="#e86e36"/>
<rect x="1273.12" y="287.20" width="1.62" height="3.30" fill="#e86e36"/>
<rect x="1345.38" y="287.20" width="1.62" height="3.30" fill="#e86e36"/>
<rect x="1350.75" y="287.20" width="2.50" height="3.30" fill="#e86e36"/>
<rect x="1357.00" y="287.20" width="1.25" height="3.30" fill="#e86e36"/>
<rect x="1405.75" y="287.20" width="1.25" height="3.30" fill="#e86e36"/>
<rect x="1425.75" y="287.20" width="1.25" height="3.30" fill="#e86e36"/>
<rect x="1432.00" y="287.20" width="1.25" height="3.30" fill="#e86e36"/>
<rect x="1442.88" y="287.20" width="1.62" height="3.30" fill="#e86e36"/>
<rect x="1450.75" y="287.20" width="6.25" height="3.30" fill="#e86e36"/>
<rect x="1461.62" y="287.20" width="1.62" height="3.30" fill="#e86e36"/>
<rect x="1464.50" y="287.20" width="2.50" height="3.30" fill="#e86e36"/>
<rect x="1469.12" y="287.20" width="1.62" height="3.30" fill="#e86e36"/>
<rect x="1479.12" y="287.20" width="1.62" height="3.30" fill="#e86e36"/>
<rect x="1496.62" y="287.20" width="1.62" height="3.30" fill="#e86e36"/>
<rect x="1539.50" y="287.20" width="1.25" height="3.30" fill="#e86e36"/>
<rect x="1542.00" y="287.20" width="1.25" height="3.30" fill="#e86e36"/>
<rect x="1549.25" y="287.20" width="1.50" height="3.30" fill="#e86e36"/>
<rect x="1552.00" y="287.20" width="5.00" height="3.30" fill="#e86e36"/>
<rect x="1567.00" y="287.20" width="1.25" height="3.30" fill="#e86e36"/>
<rect x="1583.25" y="287.20" width="1.25" height="3.30" fill="#e86e36"/>
<rect x="1593.25" y="287.20" width="1.25" height="3.30" fill="#e86e36"/>
<rect x="1600.75" y="287.20" width="1.25" height="3.30" fill="#e86e36"/>
<rect x="1624.25" y="287.20" width="1.50" height="3.30" fill="#e86e36"/>
<rect x="1629.50" y="287.20" width="1.25" height="3.30" fill="#e86e36"/>
<rect x="1638.00" y="287.20" width="4.00" height="3.30" fill="#e86e36"/>
<rect x="1648.25" y="287.20" width="1.25" height="3.30" fill="#e86e36"/>
<rect x="1655.75" y="287.20" width="1.25" height="3.30" fill="#e86e36"/>
<rect x="1700.75" y="287.20" width="6.25" height="3.30" fill="#e86e36"/>
<rect x="1708.25" y="287.20" width="1.25" height="3.30" fill="#e86e36"/>
<rect x="1710.75" y="287.20" width="2.50" height="3.30" fill="#e86e36"/>
<rect x="1716.75" y="287.20" width="5.00" height="3.30" fill="#e86e36"/>
<rect x="1725.75" y="287.20" width="1.25" height="3.30" fill="#e86e36"/>
<rect x="1743.00" y="287.20" width="1.50" height="3.30" fill="#e86e36"/>
<rect x="1745.75" y="287.20" width="15.00" height="3.30" fill="#e86e36"/>
<rect x="1765.50" y="287.20" width="2.50" height="3.30" fill="#e86e36"/>
<rect x="2.00" y="292.20" width="5.50" height="3.30" fill="#e86e36"/>
<rect x="10.60" y="292.20" width="1.90" height="3.30" fill="#e86e36"/>
<rect x="18.00" y="292.20" width="4.50" height="3.30" fill="#e86e36"/>
<rect x="27.00" y="292.20" width="10.00" height="3.30" fill="#e86e36"/>
<rect x="41.00" y="292.20" width="1.00" height="3.30" fill="#e86e36"/>
<rect x="65.60" y="292.20" width="25.00" height="3.30" fill="#e86e36"/>
<rect x="97.50" y="292.20" width="6.25" height="3.30" fill="#e86e36"/>
<rect x="116.00" y="292.20" width="2.00" height="3.30" fill="#e86e36"/>
<rect x="127.50" y="292.20" width="1.00" height="3.30" fill="#e86e36"/>
<rect x="132.00" y="292.20" width="3.60" height="3.30" fill="#e86e36"/>
<rect x="149.00" y="292.20" width="3.00" height="3.30" fill="#e86e36"/>
<rect x="167.50" y="292.20" width="1.00" height="3.30" fill="#e86e36"/>
<rect x="184.00" y="292.20" width="1.00" height="3.30" fill="#e86e36"/>
<rect x="199.00" y="292.20" width="5.00" height="3.30" fill="#e86e36"/>
<rect x="209.00" y="292.20" width="1.00" height="3.30" fill="#e86e36"/>
<rect x="217.50" y="292.20" width="1.00" height="3.30" fill="#e86e36"/>
<rect x="232.88" y="292.20" width="2.88" height="3.30" fill="#e86e36"/>
<rect x="239.12" y="292.20" width="1.62" height="3.30" fill="#e86e36"/>
<rect x="249.12" y="292.20" width="2.88" height="3.30" fill="#e86e36"/>
<rect x="269.50" y="292.20" width="2.50" height="3.30" fill="#e86e36"/>
<rect x="282.88" y="292.20" width="8.75" height="3.30" fill="#e86e36"/>
<rect x="292.88" y="292.20" width="1.88" height="3.30" fill="#e86e36"/>
<rect x="297.88" y="292.20" width="4.12" height="3.30" fill="#e86e36"/>
<rect x="314.12" y="292.20" width="2.88" height="3.30" fill="#e86e36"/>
<rect x="322.00" y="292.20" width="1.25" height="3.30" fill="#e86e36"/>
<rect x="343.25" y="292.20" width="1.25" height="3.30" fill="#e86e36"/>
<rect x="357.00" y="292.20" width="4.00" height="3.30" fill="#e86e36"/>
<rect x="414.12" y="292.20" width="1.62" height="3.30" fill="#e86e36"/>
<rect x="417.88" y="292.20" width="1.62" height="3.30" fill="#e86e36"/>
<rect x="489.25" y="292.20" width="1.50" height="3.30" fill="#e86e36"/>
<rect x="492.00" y="292.20" width="1.25" height="3.30" fill="#e86e36"/>
<rect x="498.25" y="292.20" width="1.25" height="3.30" fill="#e86e36"/>
<rect x="524.25" y="292.20" width="1.50" height="3.30" fill="#e86e36"/>
<rect x="531.75" y="292.20" width="1.25" height="3.30" fill="#e86e36"/>
<rect x="555.50" y="292.20" width="1.25" height="3.30" fill="#e86e36"/>
<rect x="563.88" y="292.20" width="1.88" height="3.30" fill="#e86e36"/>
<rect x="570.75" y="292.20" width="1.25" height="3.30" fill="#e86e36"/>
<rect x="625.50" y="292.20" width="1.25" height="3.30" fill="#e86e36"/>
<rect x="690.50" y="292.20" width="1.50" height="3.30" fill="#e86e36"/>
<rect x="702.75" y="292.20" width="1.75" height="3.30" fill="#e86e36"/>
<rect x="738.00" y="292.20" width="1.50" height="3.30" fill="#e86e36"/>
<rect x="746.75" y="292.20" width="1.50" height="3.30" fill="#e86e36"/>
<rect x="760.50" y="292.20" width="1.50" height="3.30" fill="#e86e36"/>
<rect x="769.00" y="292.20" width="1.50" height="3.30" fill="#e86e36"/>
<rect x="816.75" y="292.20" width="1.50" height="3.30" fill="#e86e36"/>
<rect x="820.50" y="292.20" width="1.50" height="3.30" fill="#e86e36"/>
<rect x="848.00" y="292.20" width="1.50" height="3.30" fill="#e86e36"/>
<rect x="871.50" y="292.20" width="1.50" height="3.30" fill="#e86e36"/>
<rect x="895.50" y="292.20" width="1.62" height="3.30" fill="#e86e36"/>
<rect x="904.00" y="292.20" width="1.88" height="3.30" fill="#e86e36"/>
<rect x="950.50" y="292.20" width="1.62" height="3.30" fill="#e86e36"/>
<rect x="968.00" y="292.20" width="1.62" height="3.30" fill="#e86e36"/>
<rect x="1144.00" y="292.20" width="1.62" height="3.30" fill="#e86e36"/>
<rect x="1189.38" y="292.20" width="1.62" height="3.30" fill="#e86e36"/>
<rect x="1255.62" y="292.20" width="1.25" height="3.30" fill="#e86e36"/>
<rect x="1267.75" y="292.20" width="1.62" height="3.30" fill="#e86e36"/>
<rect x="1276.00" y="292.20" width="2.50" height="3.30" fill="#e86e36"/>
<rect x="1284.00" y="292.20" width="1.62" height="3.30" fill="#e86e36"/>
<rect x="1299.00" y="292.20" width="1.62" height="3.30" fill="#e86e36"/>
<rect x="1315.25" y="292.20" width="1.62" height="3.30" fill="#e86e36"/>
<rect x="1331.62" y="292.20" width="1.62" height="3.30" fill="#e86e36"/>
<rect x="1344.12" y="292.20" width="2.50" height="3.30" fill="#e86e36"/>
<rect x="1387.00" y="292.20" width="1.25" height="3.30" fill="#e86e36"/>
<rect x="1397.00" y="292.20" width="1.25" height="3.30" fill="#e86e36"/>
<rect x="1452.25" y="292.20" width="3.75" height="3.30" fill="#e86e36"/>
<rect x="1504.50" y="292.20" width="1.25" height="3.30" fill="#e86e36"/>
<rect x="1593.25" y="292.20" width="1.25" height="3.30" fill="#e86e36"/>
<rect x="1600.75" y="292.20" width="1.25" height="3.30" fill="#e86e36"/>
<rect x="1648.00" y="292.20" width="1.50" height="3.30" fill="#e86e36"/>
<rect x="1651.75" y="292.20" width="1.25" height="3.30" fill="#e86e36"/>
<rect x="1655.75" y="292.20" width="1.25" height="3.30" fill="#e86e36"/>
<rect x="1674.25" y="292.20" width="1.50" height="3.30" fill="#e86e36"/>
<rect x="1678.00" y="292.20" width="1.50" height="3.30" fill="#e86e36"/>
<rect x="1681.75" y="292.20" width="1.25" height="3.30" fill="#e86e36"/>
<rect x="1689.25" y="292.20" width="2.75" height="3.30" fill="#e86e36"/>
<rect x="1694.25" y="292.20" width="12.75" height="3.30" fill="#e86e36"/>
<rect x="1708.25" y="292.20" width="5.00" height="3.30" fill="#e86e36"/>
<rect x="1717.00" y="292.20" width="3.75" height="3.30" fill="#e86e36"/>
<rect x="1728.00" y="292.20" width="1.25" height="3.30" fill="#e86e36"/>
<rect x="1732.00" y="292.20" width="8.12" height="3.30" fill="#e86e36"/>
<rect x="1741.38" y="292.20" width="22.50" height="3.30" fill="#e86e36"/>
<rect x="1765.50" y="292.20" width="2.50" height="3.30" fill="#e86e36"/>
<rect x="3.00" y="297.20" width="1.00" height="3.30" fill="#e86e36"/>
<rect x="13.00" y="297.20" width="11.00" height="3.30" fill="#e86e36"/>
<rect x="27.00" y="297.20" width="1.00" height="3.30" fill="#e86e36"/>
<rect x="45.60" y="297.20" width="1.40" height="3.30" fill="#e86e36"/>
<rect x="52.00" y="297.20" width="2.00" height="3.30" fill="#e86e36"/>
<rect x="67.50" y="297.20" width="3.10" height="3.30" fill="#e86e36"/>
<rect x="239.12" y="297.20" width="1.62" height="3.30" fill="#e86e36"/>
<rect x="265.75" y="297.20" width="3.75" height="3.30" fill="#e86e36"/>
<rect x="286.62" y="297.20" width="1.25" height="3.30" fill="#e86e36"/>
<rect x="457.00" y="297.20" width="1.25" height="3.30" fill="#e86e36"/>
<rect x="499.25" y="297.20" width="1.50" height="3.30" fill="#e86e36"/>
<rect x="570.75" y="297.20" width="1.25" height="3.30" fill="#e86e36"/>
<rect x="929.25" y="297.20" width="1.62" height="3.30" fill="#e86e36"/>
<rect x="1077.75" y="297.20" width="1.50" height="3.30" fill="#e86e36"/>
<rect x="1162.75" y="297.20" width="1.62" height="3.30" fill="#e86e36"/>
<rect x="1345.75" y="297.20" width="2.50" height="3.30" fill="#e86e36"/>
<rect x="1350.38" y="297.20" width="1.62" height="3.30" fill="#e86e36"/>
<rect x="1357.00" y="297.20" width="1.25" height="3.30" fill="#e86e36"/>
<rect x="1422.88" y="297.20" width="1.25" height="3.30" fill="#e86e36"/>
<rect x="1425.38" y="297.20" width="1.25" height="3.30" fill="#e86e36"/>
<rect x="1427.88" y="297.20" width="1.62" height="3.30" fill="#e86e36"/>
<rect x="1431.62" y="297.20" width="1.62" height="3.30" fill="#e86e36"/>
<rect x="1436.62" y="297.20" width="1.25" height="3.30" fill="#e86e36"/>
<rect x="1442.88" y="297.20" width="1.62" height="3.30" fill="#e86e36"/>
<rect x="1447.88" y="297.20" width="1.62" height="3.30" fill="#e86e36"/>
<rect x="1452.00" y="297.20" width="1.25" height="3.30" fill="#e86e36"/>
<rect x="1456.62" y="297.20" width="1.25" height="3.30" fill="#e86e36"/>
<rect x="1461.62" y="297.20" width="1.62" height="3.30" fill="#e86e36"/>
<rect x="1464.50" y="297.20" width="1.25" height="3.30" fill="#e86e36"/>
<rect x="1466.62" y="297.20" width="1.62" height="3.30" fill="#e86e36"/>
<rect x="1469.50" y="297.20" width="1.50" height="3.30" fill="#e86e36"/>
<rect x="1476.62" y="297.20" width="1.25" height="3.30" fill="#e86e36"/>
<rect x="1480.38" y="297.20" width="1.62" height="3.30" fill="#e86e36"/>
<rect x="1505.38" y="297.20" width="1.62" height="3.30" fill="#e86e36"/>
<rect x="1530.38" y="297.20" width="1.25" height="3.30" fill="#e86e36"/>
<rect x="1540.38" y="297.20" width="1.62" height="3.30" fill="#e86e36"/>
<rect x="1543.25" y="297.20" width="1.50" height="3.30" fill="#e86e36"/>
<rect x="1547.00" y="297.20" width="1.25" height="3.30" fill="#e86e36"/>
<rect x="1552.00" y="297.20" width="1.25" height="3.30" fill="#e86e36"/>
<rect x="1555.50" y="297.20" width="1.25" height="3.30" fill="#e86e36"/>
<rect x="1559.25" y="297.20" width="1.25" height="3.30" fill="#e86e36"/>
<rect x="1567.00" y="297.20" width="3.75" height="3.30" fill="#e86e36"/>
<rect x="1583.00" y="297.20" width="1.50" height="3.30" fill="#e86e36"/>
<rect x="1589.50" y="297.20" width="1.25" height="3.30" fill="#e86e36"/>
<rect x="1592.62" y="297.20" width="1.25" height="3.30" fill="#e86e36"/>
<rect x="1595.50" y="297.20" width="1.25" height="3.30" fill="#e86e36"/>
<rect x="1599.50" y="297.20" width="2.50" height="3.30" fill="#e86e36"/>
<rect x="1622.00" y="297.20" width="1.25" height="3.30" fill="#e86e36"/>
<rect x="1624.50" y="297.20" width="1.25" height="3.30" fill="#e86e36"/>
<rect x="1627.00" y="297.20" width="1.25" height="3.30" fill="#e86e36"/>
<rect x="1629.50" y="297.20" width="1.25" height="3.30" fill="#e86e36"/>
<rect x="1638.00" y="297.20" width="1.50" height="3.30" fill="#e86e36"/>
<rect x="1642.00" y="297.20" width="1.25" height="3.30" fill="#e86e36"/>
<rect x="1647.00" y="297.20" width="4.75" height="3.30" fill="#e86e36"/>
<rect x="1655.75" y="297.20" width="1.25" height="3.30" fill="#e86e36"/>
<rect x="1695.50" y="297.20" width="7.75" height="3.30" fill="#e86e36"/>
<rect x="1708.00" y="297.20" width="7.75" height="3.30" fill="#e86e36"/>
<rect x="1717.00" y="297.20" width="2.50" height="3.30" fill="#e86e36"/>
<rect x="1723.25" y="297.20" width="4.75" height="3.30" fill="#e86e36"/>
<rect x="1733.00" y="297.20" width="2.50" height="3.30" fill="#e86e36"/>
<rect x="1742.00" y="297.20" width="7.50" height="3.30" fill="#e86e36"/>
<rect x="1682.00" y="332.40" width="66.00" height="22.20" fill="#43a047"/>
<rect x="1715.20" y="332.40" width="0.80" height="22.20" fill="#6cc070"/>
<rect x="1748.00" y="332.40" width="1.00" height="22.20" fill="#2f7a33"/>
<rect x="1749.00" y="332.40" width="19.00" height="22.20" fill="#43a047"/>
<rect x="1765.00" y="355.00" width="3.00" height="22.00" fill="#43a047"/>
<text x="1687.00" y="348.00" font-size="16" fill="#ffffff" text-anchor="start" font-weight="normal" textLength="15.00" lengthAdjust="spacingAndGlyphs" stroke="#ffffff" stroke-width="0.3">47</text>
<circle cx="1703.33" cy="347.12" r="0.88" fill="#ffffff"/>
<circle cx="1706.00" cy="347.12" r="0.88" fill="#ffffff"/>
<circle cx="1708.67" cy="347.12" r="0.88" fill="#ffffff"/>
<text x="1720.00" y="348.00" font-size="16" fill="#ffffff" text-anchor="start" font-weight="normal" textLength="14.50" lengthAdjust="spacingAndGlyphs" stroke="#ffffff" stroke-width="0.3">47</text>
<circle cx="1735.83" cy="347.12" r="0.88" fill="#ffffff"/>
<circle cx="1738.50" cy="347.12" r="0.88" fill="#ffffff"/>
<circle cx="1741.17" cy="347.12" r="0.88" fill="#ffffff"/>
<text x="1753.75" y="348.00" font-size="16" fill="#ffffff" text-anchor="start" font-weight="normal" textLength="14.25" lengthAdjust="spacingAndGlyphs" stroke="#ffffff" stroke-width="0.3">47</text>
<rect x="1702.00" y="385.00" width="40.50" height="22.30" fill="#fb6a21"/>
<rect x="1742.50" y="385.00" width="6.25" height="22.30" fill="#c5d98c"/>
<rect x="1748.75" y="385.00" width="6.25" height="22.30" fill="#43a047"/>
<rect x="1766.00" y="385.00" width="2.00" height="22.30" fill="#43a047"/>
<text x="1707.25" y="400.00" font-size="16" fill="#ffffff" text-anchor="start" font-weight="normal" textLength="22.25" lengthAdjust="spacingAndGlyphs" stroke="#ffffff" stroke-width="0.3">471</text>
<circle cx="1730.83" cy="399.12" r="0.88" fill="#ffffff"/>
<circle cx="1733.50" cy="399.12" r="0.88" fill="#ffffff"/>
<circle cx="1736.17" cy="399.12" r="0.88" fill="#ffffff"/>
<rect x="0.00" y="414.90" width="1710.75" height="14.70" fill="#317d31"/>
<rect x="1714.00" y="414.90" width="14.00" height="14.70" fill="#317d31"/>
<rect x="1740.50" y="414.90" width="6.25" height="14.70" fill="#317d31"/>
<rect x="1749.00" y="414.90" width="3.00" height="14.70" fill="#317d31"/>
<rect x="1766.00" y="414.90" width="2.00" height="14.70" fill="#317d31"/>
<rect x="17.75" y="414.90" width="2.50" height="14.70" fill="#ffffff"/>
<rect x="1680.30" y="414.90" width="0.60" height="14.70" fill="#ffffff"/>
<rect x="4.75" y="414.90" width="0.70" height="14.70" fill="#7fb860"/>
<rect x="14.00" y="414.90" width="0.70" height="14.70" fill="#7fb860"/>
<rect x="16.00" y="414.90" width="0.70" height="14.70" fill="#7fb860"/>
<rect x="20.60" y="414.90" width="0.70" height="14.70" fill="#7fb860"/>
<rect x="27.25" y="414.90" width="0.70" height="14.70" fill="#7fb860"/>
<rect x="29.40" y="414.90" width="0.70" height="14.70" fill="#7fb860"/>
<rect x="31.00" y="414.90" width="0.70" height="14.70" fill="#7fb860"/>
<rect x="37.50" y="414.90" width="0.70" height="14.70" fill="#7fb860"/>
<rect x="39.00" y="414.90" width="0.70" height="14.70" fill="#7fb860"/>
<rect x="40.20" y="414.90" width="0.70" height="14.70" fill="#7fb860"/>
<rect x="41.25" y="414.90" width="0.70" height="14.70" fill="#7fb860"/>
<rect x="43.75" y="414.90" width="0.70" height="14.70" fill="#7fb860"/>
<rect x="46.25" y="414.90" width="0.70" height="14.70" fill="#7fb860"/>
<rect x="48.50" y="414.90" width="0.70" height="14.70" fill="#7fb860"/>
<rect x="50.60" y="414.90" width="0.70" height="14.70" fill="#7fb860"/>
<rect x="52.50" y="414.90" width="0.70" height="14.70" fill="#7fb860"/>
<rect x="53.50" y="414.90" width="0.70" height="14.70" fill="#7fb860"/>
<rect x="69.60" y="414.90" width="0.70" height="14.70" fill="#7fb860"/>
<rect x="458.00" y="414.90" width="0.70" height="14.70" fill="#7fb860"/>
<rect x="930.00" y="414.90" width="0.70" height="14.70" fill="#7fb860"/>
<rect x="1163.50" y="414.90" width="0.70" height="14.70" fill="#7fb860"/>
<rect x="1346.60" y="414.90" width="0.70" height="14.70" fill="#7fb860"/>
<rect x="1351.60" y="414.90" width="0.70" height="14.70" fill="#7fb860"/>
<rect x="1357.90" y="414.90" width="0.70" height="14.70" fill="#7fb860"/>
<rect x="1427.50" y="414.90" width="0.70" height="14.70" fill="#7fb860"/>
<rect x="1433.00" y="414.90" width="0.70" height="14.70" fill="#7fb860"/>
<rect x="1437.00" y="414.90" width="0.70" height="14.70" fill="#7fb860"/>
<rect x="1453.50" y="414.90" width="0.70" height="14.70" fill="#7fb860"/>
<rect x="1466.00" y="414.90" width="0.70" height="14.70" fill="#7fb860"/>
<rect x="1472.00" y="414.90" width="0.70" height="14.70" fill="#7fb860"/>
<rect x="1481.60" y="414.90" width="0.70" height="14.70" fill="#7fb860"/>
<rect x="1506.60" y="414.90" width="0.70" height="14.70" fill="#7fb860"/>
<rect x="1531.00" y="414.90" width="0.70" height="14.70" fill="#7fb860"/>
<rect x="1548.90" y="414.90" width="0.70" height="14.70" fill="#7fb860"/>
<rect x="1552.60" y="414.90" width="0.70" height="14.70" fill="#7fb860"/>
<rect x="1556.75" y="414.90" width="0.70" height="14.70" fill="#7fb860"/>
<rect x="1568.25" y="414.90" width="0.70" height="14.70" fill="#7fb860"/>
<rect x="1583.90" y="414.90" width="0.70" height="14.70" fill="#7fb860"/>
<rect x="1598.25" y="414.90" width="0.70" height="14.70" fill="#7fb860"/>
<rect x="1601.00" y="414.90" width="0.70" height="14.70" fill="#7fb860"/>
<rect x="1623.25" y="414.90" width="0.70" height="14.70" fill="#7fb860"/>
<rect x="1627.00" y="414.90" width="0.70" height="14.70" fill="#7fb860"/>
<rect x="1642.00" y="414.90" width="0.70" height="14.70" fill="#7fb860"/>
<rect x="1648.50" y="414.90" width="0.70" height="14.70" fill="#7fb860"/>
<rect x="1652.60" y="414.90" width="0.70" height="14.70" fill="#7fb860"/>
<rect x="1656.40" y="414.90" width="0.70" height="14.70" fill="#7fb860"/>
<rect x="1677.60" y="414.90" width="0.70" height="14.70" fill="#7fb860"/>
<rect x="1682.00" y="414.90" width="0.70" height="14.70" fill="#7fb860"/>
<rect x="1683.90" y="414.90" width="0.70" height="14.70" fill="#7fb860"/>
<rect x="1685.75" y="414.90" width="0.70" height="14.70" fill="#7fb860"/>
<rect x="1688.25" y="414.90" width="0.70" height="14.70" fill="#7fb860"/>
<rect x="1690.75" y="414.90" width="0.70" height="14.70" fill="#7fb860"/>
<rect x="1692.60" y="414.90" width="0.70" height="14.70" fill="#7fb860"/>
<rect x="1702.00" y="414.90" width="0.70" height="14.70" fill="#7fb860"/>
<rect x="1703.90" y="414.90" width="0.70" height="14.70" fill="#7fb860"/>
<rect x="1714.50" y="414.90" width="0.70" height="14.70" fill="#7fb860"/>
<rect x="1717.00" y="414.90" width="0.70" height="14.70" fill="#7fb860"/>
<rect x="1719.50" y="414.90" width="0.70" height="14.70" fill="#7fb860"/>
<rect x="1727.00" y="414.90" width="0.70" height="14.70" fill="#7fb860"/>
<rect x="239.50" y="414.90" width="0.80" height="14.70" fill="#4f9148"/>
<rect x="288.50" y="414.90" width="0.80" height="14.70" fill="#4f9148"/>
<rect x="571.50" y="414.90" width="0.80" height="14.70" fill="#4f9148"/>
<rect x="1079.00" y="414.90" width="0.80" height="14.70" fill="#4f9148"/>
<rect x="1560.50" y="414.90" width="0.80" height="14.70" fill="#4f9148"/>
<rect x="1569.25" y="414.90" width="0.80" height="14.70" fill="#4f9148"/>
<rect x="1588.90" y="414.90" width="0.80" height="14.70" fill="#4f9148"/>
<rect x="267.00" y="414.90" width="2.00" height="14.70" fill="#a8d060"/>
<rect x="1695.10" y="414.90" width="4.40" height="14.70" fill="#6fa860"/>
<rect x="1709.50" y="414.90" width="1.25" height="14.70" fill="#8fc46a"/>
<text x="136.50" y="426.00" font-size="12.5" fill="#e6f2e0" text-anchor="start" font-weight="normal" textLength="39.75" lengthAdjust="spacingAndGlyphs" stroke="#e6f2e0" stroke-width="0.3">Running</text>
<text x="243.50" y="426.00" font-size="12.5" fill="#e6f2e0" text-anchor="start" font-weight="normal" textLength="13.00" lengthAdjust="spacingAndGlyphs" stroke="#e6f2e0" stroke-width="0.3">Ru</text>
<circle cx="257.58" cy="425.31" r="0.69" fill="#e6f2e0"/>
<circle cx="259.75" cy="425.31" r="0.69" fill="#e6f2e0"/>
<circle cx="261.92" cy="425.31" r="0.69" fill="#e6f2e0"/>
<text x="272.00" y="426.00" font-size="12.5" fill="#e6f2e0" text-anchor="start" font-weight="normal" textLength="6.90" lengthAdjust="spacingAndGlyphs" stroke="#e6f2e0" stroke-width="0.3">R</text>
<circle cx="279.98" cy="425.31" r="0.69" fill="#e6f2e0"/>
<circle cx="282.15" cy="425.31" r="0.69" fill="#e6f2e0"/>
<circle cx="284.32" cy="425.31" r="0.69" fill="#e6f2e0"/>
<text x="353.50" y="426.00" font-size="12.5" fill="#e6f2e0" text-anchor="start" font-weight="normal" textLength="38.75" lengthAdjust="spacingAndGlyphs" stroke="#e6f2e0" stroke-width="0.3">Running</text>
<text x="462.50" y="426.00" font-size="12.5" fill="#e6f2e0" text-anchor="start" font-weight="normal" textLength="28.50" lengthAdjust="spacingAndGlyphs" stroke="#e6f2e0" stroke-width="0.3">Runni</text>
<circle cx="492.08" cy="425.31" r="0.69" fill="#e6f2e0"/>
<circle cx="494.25" cy="425.31" r="0.69" fill="#e6f2e0"/>
<circle cx="496.42" cy="425.31" r="0.69" fill="#e6f2e0"/>
<text x="516.50" y="426.00" font-size="12.5" fill="#e6f2e0" text-anchor="start" font-weight="normal" textLength="39.25" lengthAdjust="spacingAndGlyphs" stroke="#e6f2e0" stroke-width="0.3">Running</text>
<text x="730.75" y="426.00" font-size="12.5" fill="#e6f2e0" text-anchor="start" font-weight="normal" textLength="40.00" lengthAdjust="spacingAndGlyphs" stroke="#e6f2e0" stroke-width="0.3">Running</text>
<text x="985.00" y="426.00" font-size="12.5" fill="#e6f2e0" text-anchor="start" font-weight="normal" textLength="39.50" lengthAdjust="spacingAndGlyphs" stroke="#e6f2e0" stroke-width="0.3">Running</text>
<text x="1101.50" y="426.00" font-size="12.5" fill="#e6f2e0" text-anchor="start" font-weight="normal" textLength="39.50" lengthAdjust="spacingAndGlyphs" stroke="#e6f2e0" stroke-width="0.3">Running</text>
<text x="1235.00" y="426.00" font-size="12.5" fill="#e6f2e0" text-anchor="start" font-weight="normal" textLength="39.50" lengthAdjust="spacingAndGlyphs" stroke="#e6f2e0" stroke-width="0.3">Running</text>
<text x="1371.60" y="426.00" font-size="12.5" fill="#e6f2e0" text-anchor="start" font-weight="normal" textLength="38.80" lengthAdjust="spacingAndGlyphs" stroke="#e6f2e0" stroke-width="0.3">Running</text>
<text x="1484.75" y="426.00" font-size="12.5" fill="#e6f2e0" text-anchor="start" font-weight="normal" textLength="12.75" lengthAdjust="spacingAndGlyphs" stroke="#e6f2e0" stroke-width="0.3">Ru</text>
<circle cx="1498.58" cy="425.31" r="0.69" fill="#e6f2e0"/>
<circle cx="1500.75" cy="425.31" r="0.69" fill="#e6f2e0"/>
<circle cx="1502.92" cy="425.31" r="0.69" fill="#e6f2e0"/>
<text x="1509.50" y="426.00" font-size="12.5" fill="#e6f2e0" text-anchor="start" font-weight="normal" textLength="13.00" lengthAdjust="spacingAndGlyphs" stroke="#e6f2e0" stroke-width="0.3">Ru</text>
<circle cx="1523.58" cy="425.31" r="0.69" fill="#e6f2e0"/>
<circle cx="1525.75" cy="425.31" r="0.69" fill="#e6f2e0"/>
<circle cx="1527.92" cy="425.31" r="0.69" fill="#e6f2e0"/>
<text x="1574.50" y="426.00" font-size="12.5" fill="#e6f2e0" text-anchor="start" font-weight="normal" textLength="6.25" lengthAdjust="spacingAndGlyphs" stroke="#e6f2e0" stroke-width="0.3">R</text>
<text x="1606.40" y="426.00" font-size="12.5" fill="#e6f2e0" text-anchor="start" font-weight="normal" textLength="6.60" lengthAdjust="spacingAndGlyphs" stroke="#e6f2e0" stroke-width="0.3">R</text>
<circle cx="1614.08" cy="425.31" r="0.69" fill="#e6f2e0"/>
<circle cx="1616.25" cy="425.31" r="0.69" fill="#e6f2e0"/>
<circle cx="1618.42" cy="425.31" r="0.69" fill="#e6f2e0"/>
<text x="1660.00" y="426.00" font-size="12.5" fill="#e6f2e0" text-anchor="start" font-weight="normal" textLength="7.50" lengthAdjust="spacingAndGlyphs" stroke="#e6f2e0" stroke-width="0.3">R</text>
<circle cx="1668.58" cy="425.31" r="0.69" fill="#e6f2e0"/>
<circle cx="1670.75" cy="425.31" r="0.69" fill="#e6f2e0"/>
<circle cx="1672.92" cy="425.31" r="0.69" fill="#e6f2e0"/>
<rect x="0.00" y="437.20" width="15.00" height="22.40" fill="#3aa896"/>
<rect x="15.00" y="437.20" width="2.00" height="22.40" fill="#b8c078"/>
<rect x="22.00" y="437.20" width="2.40" height="22.40" fill="#a89850"/>
<rect x="24.40" y="437.20" width="1652.10" height="22.40" fill="#29647a"/>
<rect x="1676.50" y="437.20" width="3.00" height="22.40" fill="#7ab8d8"/>
<rect x="1679.75" y="437.20" width="21.25" height="22.40" fill="#a4532a"/>
<rect x="1702.00" y="437.20" width="43.60" height="22.40" fill="#8f7a3a"/>
<rect x="1749.00" y="437.20" width="3.00" height="22.40" fill="#8f7a3a"/>
<rect x="1766.00" y="437.20" width="2.00" height="22.40" fill="#8f7a3a"/>
<text x="815.75" y="453.00" font-size="14" fill="#f4fbfd" text-anchor="start" font-weight="normal" textLength="70.25" lengthAdjust="spacingAndGlyphs" stroke="#f4fbfd" stroke-width="0.2">activityStart</text>
<text x="1683.00" y="452.80" font-size="15" fill="#ffffff" text-anchor="start" font-weight="normal" textLength="7.50" lengthAdjust="spacingAndGlyphs" stroke="#ffffff" stroke-width="0.3">a</text>
<circle cx="1691.75" cy="451.98" r="0.82" fill="#ffffff"/>
<circle cx="1694.25" cy="451.98" r="0.82" fill="#ffffff"/>
<circle cx="1696.75" cy="451.98" r="0.82" fill="#ffffff"/>
<text x="1706.90" y="452.80" font-size="15.5" fill="#fff8e8" text-anchor="start" font-weight="normal" textLength="23.60" lengthAdjust="spacingAndGlyphs" stroke="#fff8e8" stroke-width="0.3">Cho</text>
<circle cx="1731.75" cy="451.95" r="0.85" fill="#fff8e8"/>
<circle cx="1734.25" cy="451.95" r="0.85" fill="#fff8e8"/>
<circle cx="1736.75" cy="451.95" r="0.85" fill="#fff8e8"/>
<rect x="0.00" y="459.60" width="8.00" height="22.40" fill="#3a9fbf"/>
<rect x="8.00" y="459.60" width="6.00" height="22.40" fill="#f09a5a"/>
<rect x="14.00" y="459.60" width="1.60" height="22.40" fill="#b8b060"/>
<text x="0.50" y="476.00" font-size="10" fill="#ffffff" text-anchor="start" font-weight="normal">…</text>
<rect x="23.00" y="459.60" width="1.40" height="22.40" fill="#3a7a80"/>
<rect x="24.40" y="459.60" width="2.60" height="22.40" fill="#d8907a"/>
<rect x="27.50" y="459.60" width="1.90" height="22.40" fill="#c89ad0"/>
<rect x="30.00" y="459.60" width="2.00" height="22.40" fill="#c8b070"/>
<rect x="32.00" y="459.60" width="2.40" height="22.40" fill="#e0a0a0"/>
<rect x="37.00" y="459.60" width="2.00" height="22.40" fill="#2a6a40"/>
<rect x="43.00" y="459.60" width="1.40" height="22.40" fill="#c8b070"/>
<rect x="45.60" y="459.60" width="1.90" height="22.40" fill="#f0c8a8"/>
<rect x="47.50" y="459.60" width="1.90" height="22.40" fill="#b08070"/>
<rect x="49.40" y="459.60" width="1.85" height="22.40" fill="#f0c8a8"/>
<rect x="51.25" y="459.60" width="1.00" height="22.40" fill="#c8b070"/>
<rect x="55.00" y="459.60" width="3.75" height="22.40" fill="#c8b070"/>
<rect x="58.75" y="459.60" width="3.75" height="22.40" fill="#2a7080"/>
<rect x="62.50" y="459.60" width="2.25" height="22.40" fill="#c8b070"/>
<rect x="64.75" y="459.60" width="7.50" height="22.40" fill="#2a6a88"/>
<rect x="72.25" y="459.60" width="1.50" height="22.40" fill="#a8d8e8"/>
<rect x="288.00" y="459.60" width="1.00" height="22.40" fill="#c8b070"/>
<rect x="297.00" y="459.60" width="1378.00" height="22.40" fill="#23664a"/>
<rect x="1675.00" y="459.60" width="1.50" height="22.40" fill="#f0f0c0"/>
<rect x="1678.00" y="459.60" width="0.80" height="22.40" fill="#c8a0d0"/>
<rect x="1680.60" y="459.60" width="0.80" height="22.40" fill="#c8b070"/>
<rect x="1682.50" y="459.60" width="0.80" height="22.40" fill="#c8b070"/>
<rect x="1685.00" y="459.60" width="0.80" height="22.40" fill="#c8b070"/>
<rect x="1687.00" y="459.60" width="0.80" height="22.40" fill="#c8b070"/>
<rect x="1689.40" y="459.60" width="1.00" height="22.40" fill="#b08080"/>
<rect x="1698.50" y="459.60" width="0.80" height="22.40" fill="#c8b070"/>
<rect x="1702.00" y="459.60" width="43.00" height="22.40" fill="#65bf4c"/>
<rect x="1749.00" y="459.60" width="3.00" height="22.40" fill="#d06080"/>
<rect x="1766.00" y="459.60" width="2.00" height="22.40" fill="#d06080"/>
<text x="932.00" y="475.00" font-size="15" fill="#ecf6ee" text-anchor="start" font-weight="normal" textLength="108.60" lengthAdjust="spacingAndGlyphs" stroke="#ecf6ee" stroke-width="0.3">MyFlaggedFeature</text>
<text x="1706.90" y="475.20" font-size="15.5" fill="#f0fff0" text-anchor="start" font-weight="normal" textLength="23.60" lengthAdjust="spacingAndGlyphs" stroke="#f0fff0" stroke-width="0.3">Cho</text>
<circle cx="1731.75" cy="474.35" r="0.85" fill="#f0fff0"/>
<circle cx="1734.25" cy="474.35" r="0.85" fill="#f0fff0"/>
<circle cx="1736.75" cy="474.35" r="0.85" fill="#f0fff0"/>
<rect x="925.25" y="460.5" width="120.5" height="20" fill="none" stroke="#f23c12" stroke-width="3"/>
<rect x="0.00" y="482.10" width="2.00" height="22.40" fill="#b070b0"/>
<rect x="2.00" y="482.10" width="2.00" height="22.40" fill="#a8a060"/>
<rect x="4.00" y="482.10" width="1.60" height="22.40" fill="#e0a070"/>
<rect x="5.60" y="482.10" width="2.10" height="22.40" fill="#90b0e0"/>
<rect x="7.70" y="482.10" width="2.70" height="22.40" fill="#4a5aa8"/>
<rect x="10.40" y="482.10" width="2.10" height="22.40" fill="#80b0a8"/>
<rect x="12.50" y="482.10" width="3.50" height="22.40" fill="#a8d8e0"/>
<rect x="29.40" y="482.10" width="1.20" height="22.40" fill="#c89ad0"/>
<rect x="32.25" y="482.10" width="1.50" height="22.40" fill="#6aa0d0"/>
<rect x="37.00" y="482.10" width="2.00" height="22.40" fill="#2a6a40"/>
<rect x="47.00" y="482.10" width="1.00" height="22.40" fill="#6a9a90"/>
<rect x="59.75" y="482.10" width="2.50" height="22.40" fill="#e090d0"/>
<rect x="65.00" y="482.10" width="7.25" height="22.40" fill="#4a9ad8"/>
<rect x="947.50" y="482.10" width="1.50" height="22.40" fill="#7aa0a0"/>
<rect x="1685.00" y="482.10" width="0.80" height="22.40" fill="#c8b070"/>
<rect x="1689.40" y="482.10" width="0.90" height="22.40" fill="#b08080"/>
<rect x="1703.00" y="482.10" width="41.75" height="22.40" fill="#e1467a"/>
<rect x="1749.00" y="482.10" width="3.00" height="22.40" fill="#c8c8f0"/>
<rect x="1766.00" y="482.10" width="2.00" height="22.40" fill="#c8c8f0"/>
<text x="1710.60" y="497.80" font-size="15.5" fill="#ffffff" text-anchor="start" font-weight="normal" textLength="16.90" lengthAdjust="spacingAndGlyphs" stroke="#ffffff" stroke-width="0.3">tra</text>
<circle cx="1728.75" cy="496.95" r="0.85" fill="#ffffff"/>
<circle cx="1731.25" cy="496.95" r="0.85" fill="#ffffff"/>
<circle cx="1733.75" cy="496.95" r="0.85" fill="#ffffff"/>
<rect x="0.00" y="504.60" width="2.00" height="22.40" fill="#f0d0d0"/>
<rect x="2.00" y="504.60" width="5.20" height="22.40" fill="#b88888"/>
<rect x="7.20" y="504.60" width="3.20" height="22.40" fill="#c890c0"/>
<rect x="10.40" y="504.60" width="3.60" height="22.40" fill="#a88888"/>
<rect x="33.00" y="504.60" width="0.80" height="22.40" fill="#e08060"/>
<rect x="60.00" y="504.60" width="0.80" height="22.40" fill="#c8b070"/>
<rect x="65.60" y="504.60" width="1.00" height="22.40" fill="#c8b070"/>
<rect x="67.50" y="504.60" width="1.00" height="22.40" fill="#e0c080"/>
<rect x="69.50" y="504.60" width="1.00" height="22.40" fill="#c8b070"/>
<rect x="71.50" y="504.60" width="1.00" height="22.40" fill="#c8b070"/>
<rect x="1703.00" y="504.60" width="1.75" height="22.40" fill="#5aa890"/>
<rect x="1705.60" y="504.60" width="3.40" height="22.40" fill="#6a4ad0"/>
<rect x="1709.00" y="504.60" width="1.00" height="22.40" fill="#c8c0f0"/>
<rect x="1710.00" y="504.60" width="12.50" height="22.40" fill="#3a9ab0"/>
<rect x="1723.75" y="504.60" width="4.25" height="22.40" fill="#c8c8f0"/>
<rect x="1741.00" y="504.60" width="2.00" height="22.40" fill="#5a4030"/>
<rect x="1750.00" y="504.60" width="1.00" height="22.40" fill="#c08060"/>
<rect x="1767.00" y="504.60" width="1.00" height="22.40" fill="#909090"/>
<polygon points="1716.9,526.6 1723.75,505.6 1723.75,526.6" fill="#f0a8a8"/>
<polygon points="1735.6,526.6 1741.9,505.6 1741.9,526.6" fill="#f0a8c0"/>
<polygon points="1743,526.6 1743,505.6 1747.5,526.6" fill="#e8b0d8"/>
<rect x="1.00" y="527.10" width="1.50" height="22.40" fill="#c8a0d8"/>
<rect x="2.50" y="527.10" width="1.10" height="22.40" fill="#c8b070"/>
<rect x="4.00" y="527.10" width="1.60" height="22.40" fill="#c8a0d8"/>
<rect x="6.50" y="527.10" width="1.50" height="22.40" fill="#7a5ab8"/>
<rect x="8.00" y="527.10" width="2.00" height="22.40" fill="#90b0e0"/>
<rect x="1707.00" y="527.10" width="0.80" height="22.40" fill="#d080a0"/>
<rect x="1709.50" y="527.10" width="1.00" height="22.40" fill="#c8b070"/>
<rect x="1716.60" y="527.10" width="0.90" height="22.40" fill="#e080a0"/>
<rect x="1720.00" y="527.10" width="1.20" height="22.40" fill="#4a9aa0"/>
<rect x="1723.00" y="527.10" width="1.00" height="22.40" fill="#c8b070"/>
<rect x="1724.50" y="527.10" width="1.50" height="22.40" fill="#2a6a40"/>
<rect x="1726.00" y="527.10" width="1.60" height="22.40" fill="#e07040"/>
<rect x="1744.50" y="527.10" width="1.00" height="22.40" fill="#c8b070"/>
<rect x="1750.00" y="527.10" width="1.00" height="22.40" fill="#c8b070"/>
<rect x="1741.20" y="527.10" width="1.40" height="22.40" fill="#a08070"/>
<rect x="2.00" y="549.60" width="1.00" height="22.40" fill="#a0c0e0"/>
<rect x="4.00" y="549.60" width="0.80" height="22.40" fill="#a0c0e0"/>
<rect x="8.00" y="549.60" width="2.00" height="22.40" fill="#809890"/>
<rect x="1716.00" y="549.60" width="1.50" height="22.40" fill="#4aa0b0"/>
<rect x="1720.00" y="549.60" width="1.50" height="22.40" fill="#4aa0b0"/>
<rect x="1724.60" y="549.60" width="1.00" height="22.40" fill="#c8b070"/>
<rect x="23.90" y="75.00" width="1.40" height="31.00" fill="#7a2a20" opacity="0.72"/>
<rect x="1741.00" y="75.00" width="2.00" height="31.00" fill="#7a2a20" opacity="0.42"/>
<rect x="23.90" y="127.80" width="1.40" height="178.20" fill="#7a2a20" opacity="0.72"/>
<rect x="1741.00" y="127.80" width="2.00" height="178.20" fill="#7a2a20" opacity="0.42"/>
<rect x="23.90" y="327.50" width="1.40" height="296.50" fill="#7a2a20" opacity="0.72"/>
<rect x="1741.00" y="327.50" width="2.00" height="296.50" fill="#7a2a20" opacity="0.42"/>
</svg>
</body></html>
